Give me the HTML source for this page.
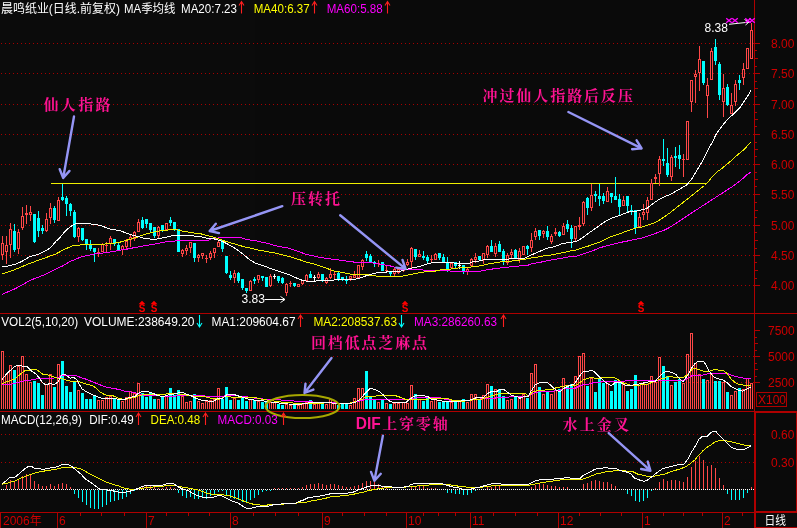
<!DOCTYPE html>
<html lang="zh"><head><meta charset="utf-8"><title>晨鸣纸业 日线</title>
<style>html,body{margin:0;padding:0;background:#0b0b0b;}svg{display:block}</style></head>
<body><svg width="797" height="528" viewBox="0 0 797 528" style="background:#0b0b0b;opacity:0.999;will-change:transform">
<rect width="797" height="528" fill="#0b0b0b"/>
<g shape-rendering="crispEdges">
<line x1="1" y1="43.5" x2="754" y2="43.5" stroke="#a80000" stroke-width="1" stroke-dasharray="1 3"/>
<line x1="1" y1="73.5" x2="754" y2="73.5" stroke="#a80000" stroke-width="1" stroke-dasharray="1 3"/>
<line x1="1" y1="104.5" x2="754" y2="104.5" stroke="#a80000" stroke-width="1" stroke-dasharray="1 3"/>
<line x1="1" y1="134.5" x2="754" y2="134.5" stroke="#a80000" stroke-width="1" stroke-dasharray="1 3"/>
<line x1="1" y1="164.5" x2="754" y2="164.5" stroke="#a80000" stroke-width="1" stroke-dasharray="1 3"/>
<line x1="1" y1="194.5" x2="754" y2="194.5" stroke="#a80000" stroke-width="1" stroke-dasharray="1 3"/>
<line x1="1" y1="225.5" x2="754" y2="225.5" stroke="#a80000" stroke-width="1" stroke-dasharray="1 3"/>
<line x1="1" y1="255.5" x2="754" y2="255.5" stroke="#a80000" stroke-width="1" stroke-dasharray="1 3"/>
<line x1="1" y1="285.5" x2="754" y2="285.5" stroke="#a80000" stroke-width="1" stroke-dasharray="1 3"/>
<line x1="1" y1="356.5" x2="754" y2="356.5" stroke="#a80000" stroke-width="1" stroke-dasharray="1 3"/>
<line x1="1" y1="382.5" x2="754" y2="382.5" stroke="#a80000" stroke-width="1" stroke-dasharray="1 3"/>
<line x1="1" y1="434.5" x2="754" y2="434.5" stroke="#a80000" stroke-width="1" stroke-dasharray="1 3"/>
<line x1="1" y1="462.5" x2="754" y2="462.5" stroke="#a80000" stroke-width="1" stroke-dasharray="1 3"/>
<rect x="0" y="313" width="797" height="1" fill="#b00000"/>
<rect x="0" y="411" width="797" height="1" fill="#b00000"/>
<rect x="0" y="512" width="797" height="1" fill="#b00000"/>
<rect x="754" y="0" width="1" height="528" fill="#b00000"/>
<rect x="754" y="411" width="43" height="2" fill="#b00000"/>
<rect x="754" y="411" width="2" height="117" fill="#b00000"/>
<rect x="796" y="411" width="1" height="101" fill="#b00000"/>
<rect x="754" y="511" width="43" height="2" fill="#b00000"/>
<rect x="755" y="527" width="42" height="1" fill="#b00000"/>
<rect x="756.5" y="392.5" width="30" height="14" fill="none" stroke="#b00000" stroke-width="1"/>
<rect x="755" y="43" width="5" height="1" fill="#b00000"/>
<rect x="755" y="50" width="2" height="1" fill="#b00000"/>
<rect x="755" y="58" width="3" height="1" fill="#b00000"/>
<rect x="755" y="66" width="2" height="1" fill="#b00000"/>
<rect x="755" y="73" width="5" height="1" fill="#b00000"/>
<rect x="755" y="81" width="2" height="1" fill="#b00000"/>
<rect x="755" y="88" width="3" height="1" fill="#b00000"/>
<rect x="755" y="96" width="2" height="1" fill="#b00000"/>
<rect x="755" y="104" width="5" height="1" fill="#b00000"/>
<rect x="755" y="112" width="2" height="1" fill="#b00000"/>
<rect x="755" y="119" width="3" height="1" fill="#b00000"/>
<rect x="755" y="126" width="2" height="1" fill="#b00000"/>
<rect x="755" y="134" width="5" height="1" fill="#b00000"/>
<rect x="755" y="142" width="2" height="1" fill="#b00000"/>
<rect x="755" y="149" width="3" height="1" fill="#b00000"/>
<rect x="755" y="156" width="2" height="1" fill="#b00000"/>
<rect x="755" y="164" width="5" height="1" fill="#b00000"/>
<rect x="755" y="172" width="2" height="1" fill="#b00000"/>
<rect x="755" y="179" width="3" height="1" fill="#b00000"/>
<rect x="755" y="186" width="2" height="1" fill="#b00000"/>
<rect x="755" y="194" width="5" height="1" fill="#b00000"/>
<rect x="755" y="202" width="2" height="1" fill="#b00000"/>
<rect x="755" y="210" width="3" height="1" fill="#b00000"/>
<rect x="755" y="217" width="2" height="1" fill="#b00000"/>
<rect x="755" y="225" width="5" height="1" fill="#b00000"/>
<rect x="755" y="232" width="2" height="1" fill="#b00000"/>
<rect x="755" y="240" width="3" height="1" fill="#b00000"/>
<rect x="755" y="248" width="2" height="1" fill="#b00000"/>
<rect x="755" y="255" width="5" height="1" fill="#b00000"/>
<rect x="755" y="262" width="2" height="1" fill="#b00000"/>
<rect x="755" y="270" width="3" height="1" fill="#b00000"/>
<rect x="755" y="278" width="2" height="1" fill="#b00000"/>
<rect x="755" y="285" width="5" height="1" fill="#b00000"/>
<rect x="755" y="330" width="5" height="1" fill="#b00000"/>
<rect x="755" y="337" width="2" height="1" fill="#b00000"/>
<rect x="755" y="343" width="3" height="1" fill="#b00000"/>
<rect x="755" y="350" width="2" height="1" fill="#b00000"/>
<rect x="755" y="356" width="5" height="1" fill="#b00000"/>
<rect x="755" y="363" width="2" height="1" fill="#b00000"/>
<rect x="755" y="369" width="3" height="1" fill="#b00000"/>
<rect x="755" y="376" width="2" height="1" fill="#b00000"/>
<rect x="755" y="382" width="5" height="1" fill="#b00000"/>
<rect x="57" y="512" width="1" height="16" fill="#b00000"/>
<rect x="146" y="512" width="1" height="16" fill="#b00000"/>
<rect x="230" y="512" width="1" height="16" fill="#b00000"/>
<rect x="322" y="512" width="1" height="16" fill="#b00000"/>
<rect x="406" y="512" width="1" height="16" fill="#b00000"/>
<rect x="470" y="512" width="1" height="16" fill="#b00000"/>
<rect x="558" y="512" width="1" height="16" fill="#b00000"/>
<rect x="642" y="512" width="1" height="16" fill="#b00000"/>
<rect x="722" y="512" width="1" height="16" fill="#b00000"/>
<rect x="80" y="512" width="1" height="4" fill="#b00000"/>
<rect x="101" y="512" width="1" height="4" fill="#b00000"/>
<rect x="124" y="512" width="1" height="4" fill="#b00000"/>
<rect x="166" y="512" width="1" height="4" fill="#b00000"/>
<rect x="188" y="512" width="1" height="4" fill="#b00000"/>
<rect x="209" y="512" width="1" height="4" fill="#b00000"/>
<rect x="253" y="512" width="1" height="4" fill="#b00000"/>
<rect x="275" y="512" width="1" height="4" fill="#b00000"/>
<rect x="298" y="512" width="1" height="4" fill="#b00000"/>
<rect x="342" y="512" width="1" height="4" fill="#b00000"/>
<rect x="364" y="512" width="1" height="4" fill="#b00000"/>
<rect x="386" y="512" width="1" height="4" fill="#b00000"/>
<rect x="423" y="512" width="1" height="4" fill="#b00000"/>
<rect x="438" y="512" width="1" height="4" fill="#b00000"/>
<rect x="455" y="512" width="1" height="4" fill="#b00000"/>
<rect x="493" y="512" width="1" height="4" fill="#b00000"/>
<rect x="515" y="512" width="1" height="4" fill="#b00000"/>
<rect x="537" y="512" width="1" height="4" fill="#b00000"/>
<rect x="579" y="512" width="1" height="4" fill="#b00000"/>
<rect x="600" y="512" width="1" height="4" fill="#b00000"/>
<rect x="621" y="512" width="1" height="4" fill="#b00000"/>
<rect x="663" y="512" width="1" height="4" fill="#b00000"/>
<rect x="683" y="512" width="1" height="4" fill="#b00000"/>
<rect x="702" y="512" width="1" height="4" fill="#b00000"/>
<rect x="742" y="512" width="1" height="4" fill="#b00000"/>
<rect x="0" y="512" width="1" height="16" fill="#b00000"/>
<rect x="51" y="183" width="655" height="1" fill="#f0f000"/>
<rect x="1" y="351" width="3" height="58" fill="#ff4848"/>
<rect x="2" y="352" width="1" height="57" fill="#0b0b0b"/>
<rect x="5" y="374" width="3" height="35" fill="#ff4848"/>
<rect x="6" y="375" width="1" height="34" fill="#0b0b0b"/>
<rect x="9" y="365" width="3" height="44" fill="#ff4848"/>
<rect x="10" y="366" width="1" height="43" fill="#0b0b0b"/>
<rect x="13" y="370" width="3" height="39" fill="#00ffff"/>
<rect x="17" y="366" width="3" height="43" fill="#ff4848"/>
<rect x="18" y="367" width="1" height="42" fill="#0b0b0b"/>
<rect x="21" y="356" width="3" height="53" fill="#ff4848"/>
<rect x="22" y="357" width="1" height="52" fill="#0b0b0b"/>
<rect x="25" y="374" width="3" height="35" fill="#ff4848"/>
<rect x="26" y="375" width="1" height="34" fill="#0b0b0b"/>
<rect x="29" y="382" width="3" height="27" fill="#ff4848"/>
<rect x="30" y="383" width="1" height="26" fill="#0b0b0b"/>
<rect x="33" y="381" width="3" height="28" fill="#00ffff"/>
<rect x="37" y="383" width="3" height="26" fill="#00ffff"/>
<rect x="41" y="395" width="3" height="14" fill="#00ffff"/>
<rect x="45" y="384" width="3" height="25" fill="#ff4848"/>
<rect x="46" y="385" width="1" height="24" fill="#0b0b0b"/>
<rect x="49" y="374" width="3" height="35" fill="#ff4848"/>
<rect x="50" y="375" width="1" height="34" fill="#0b0b0b"/>
<rect x="53" y="387" width="3" height="22" fill="#00ffff"/>
<rect x="57" y="364" width="3" height="45" fill="#ff4848"/>
<rect x="58" y="365" width="1" height="44" fill="#0b0b0b"/>
<rect x="61" y="361" width="3" height="48" fill="#00ffff"/>
<rect x="65" y="386" width="3" height="23" fill="#00ffff"/>
<rect x="69" y="392" width="3" height="17" fill="#00ffff"/>
<rect x="73" y="381" width="3" height="28" fill="#00ffff"/>
<rect x="77" y="390" width="3" height="19" fill="#ff4848"/>
<rect x="78" y="391" width="1" height="18" fill="#0b0b0b"/>
<rect x="81" y="393" width="3" height="16" fill="#00ffff"/>
<rect x="85" y="399" width="3" height="10" fill="#00ffff"/>
<rect x="89" y="399" width="3" height="10" fill="#00ffff"/>
<rect x="93" y="395" width="3" height="14" fill="#00ffff"/>
<rect x="97" y="400" width="3" height="9" fill="#ff4848"/>
<rect x="98" y="401" width="1" height="8" fill="#0b0b0b"/>
<rect x="101" y="400" width="3" height="9" fill="#ff4848"/>
<rect x="102" y="401" width="1" height="8" fill="#0b0b0b"/>
<rect x="105" y="397" width="3" height="12" fill="#ff4848"/>
<rect x="106" y="398" width="1" height="11" fill="#0b0b0b"/>
<rect x="109" y="396" width="3" height="13" fill="#ff4848"/>
<rect x="110" y="397" width="1" height="12" fill="#0b0b0b"/>
<rect x="113" y="399" width="3" height="10" fill="#00ffff"/>
<rect x="117" y="399" width="3" height="10" fill="#00ffff"/>
<rect x="121" y="401" width="3" height="8" fill="#ff4848"/>
<rect x="122" y="402" width="1" height="7" fill="#0b0b0b"/>
<rect x="125" y="397" width="3" height="12" fill="#ff4848"/>
<rect x="126" y="398" width="1" height="11" fill="#0b0b0b"/>
<rect x="129" y="391" width="3" height="18" fill="#ff4848"/>
<rect x="130" y="392" width="1" height="17" fill="#0b0b0b"/>
<rect x="133" y="393" width="3" height="16" fill="#ff4848"/>
<rect x="134" y="394" width="1" height="15" fill="#0b0b0b"/>
<rect x="137" y="383" width="3" height="26" fill="#ff4848"/>
<rect x="138" y="384" width="1" height="25" fill="#0b0b0b"/>
<rect x="141" y="393" width="3" height="16" fill="#00ffff"/>
<rect x="145" y="397" width="3" height="12" fill="#00ffff"/>
<rect x="149" y="392" width="3" height="17" fill="#00ffff"/>
<rect x="153" y="399" width="3" height="10" fill="#00ffff"/>
<rect x="157" y="399" width="3" height="10" fill="#ff4848"/>
<rect x="158" y="400" width="1" height="9" fill="#0b0b0b"/>
<rect x="161" y="397" width="3" height="12" fill="#00ffff"/>
<rect x="165" y="395" width="3" height="14" fill="#ff4848"/>
<rect x="166" y="396" width="1" height="13" fill="#0b0b0b"/>
<rect x="169" y="388" width="3" height="21" fill="#00ffff"/>
<rect x="173" y="395" width="3" height="14" fill="#00ffff"/>
<rect x="177" y="390" width="3" height="19" fill="#00ffff"/>
<rect x="181" y="396" width="3" height="13" fill="#ff4848"/>
<rect x="182" y="397" width="1" height="12" fill="#0b0b0b"/>
<rect x="185" y="402" width="3" height="7" fill="#ff4848"/>
<rect x="186" y="403" width="1" height="6" fill="#0b0b0b"/>
<rect x="189" y="401" width="3" height="8" fill="#ff4848"/>
<rect x="190" y="402" width="1" height="7" fill="#0b0b0b"/>
<rect x="193" y="394" width="3" height="15" fill="#00ffff"/>
<rect x="197" y="401" width="3" height="8" fill="#ff4848"/>
<rect x="198" y="402" width="1" height="7" fill="#0b0b0b"/>
<rect x="201" y="403" width="3" height="6" fill="#ff4848"/>
<rect x="202" y="404" width="1" height="5" fill="#0b0b0b"/>
<rect x="205" y="401" width="3" height="8" fill="#ff4848"/>
<rect x="206" y="402" width="1" height="7" fill="#0b0b0b"/>
<rect x="209" y="400" width="3" height="9" fill="#ff4848"/>
<rect x="210" y="401" width="1" height="8" fill="#0b0b0b"/>
<rect x="213" y="399" width="3" height="10" fill="#ff4848"/>
<rect x="214" y="400" width="1" height="9" fill="#0b0b0b"/>
<rect x="217" y="388" width="3" height="21" fill="#ff4848"/>
<rect x="218" y="389" width="1" height="20" fill="#0b0b0b"/>
<rect x="221" y="399" width="3" height="10" fill="#00ffff"/>
<rect x="225" y="387" width="3" height="22" fill="#00ffff"/>
<rect x="229" y="400" width="3" height="9" fill="#00ffff"/>
<rect x="233" y="398" width="3" height="11" fill="#ff4848"/>
<rect x="234" y="399" width="1" height="10" fill="#0b0b0b"/>
<rect x="237" y="400" width="3" height="9" fill="#00ffff"/>
<rect x="241" y="398" width="3" height="11" fill="#00ffff"/>
<rect x="245" y="401" width="3" height="8" fill="#00ffff"/>
<rect x="249" y="399" width="3" height="10" fill="#ff4848"/>
<rect x="250" y="400" width="1" height="9" fill="#0b0b0b"/>
<rect x="253" y="400" width="3" height="9" fill="#00ffff"/>
<rect x="257" y="401" width="3" height="8" fill="#ff4848"/>
<rect x="258" y="402" width="1" height="7" fill="#0b0b0b"/>
<rect x="261" y="402" width="3" height="7" fill="#00ffff"/>
<rect x="265" y="402" width="3" height="7" fill="#00ffff"/>
<rect x="269" y="402" width="3" height="7" fill="#ff4848"/>
<rect x="270" y="403" width="1" height="6" fill="#0b0b0b"/>
<rect x="273" y="402" width="3" height="7" fill="#ff4848"/>
<rect x="274" y="403" width="1" height="6" fill="#0b0b0b"/>
<rect x="277" y="404" width="3" height="5" fill="#00ffff"/>
<rect x="281" y="405" width="3" height="4" fill="#00ffff"/>
<rect x="285" y="404" width="3" height="5" fill="#ff4848"/>
<rect x="286" y="405" width="1" height="4" fill="#0b0b0b"/>
<rect x="289" y="405" width="3" height="4" fill="#ff4848"/>
<rect x="290" y="406" width="1" height="3" fill="#0b0b0b"/>
<rect x="293" y="405" width="3" height="4" fill="#00ffff"/>
<rect x="297" y="405" width="3" height="4" fill="#ff4848"/>
<rect x="298" y="406" width="1" height="3" fill="#0b0b0b"/>
<rect x="301" y="404" width="3" height="5" fill="#ff4848"/>
<rect x="302" y="405" width="1" height="4" fill="#0b0b0b"/>
<rect x="305" y="402" width="3" height="7" fill="#ff4848"/>
<rect x="306" y="403" width="1" height="6" fill="#0b0b0b"/>
<rect x="309" y="400" width="3" height="9" fill="#00ffff"/>
<rect x="313" y="404" width="3" height="5" fill="#ff4848"/>
<rect x="314" y="405" width="1" height="4" fill="#0b0b0b"/>
<rect x="317" y="402" width="3" height="7" fill="#ff4848"/>
<rect x="318" y="403" width="1" height="6" fill="#0b0b0b"/>
<rect x="321" y="403" width="3" height="6" fill="#00ffff"/>
<rect x="325" y="404" width="3" height="5" fill="#ff4848"/>
<rect x="326" y="405" width="1" height="4" fill="#0b0b0b"/>
<rect x="329" y="399" width="3" height="10" fill="#ff4848"/>
<rect x="330" y="400" width="1" height="9" fill="#0b0b0b"/>
<rect x="333" y="403" width="3" height="6" fill="#ff4848"/>
<rect x="334" y="404" width="1" height="5" fill="#0b0b0b"/>
<rect x="337" y="405" width="3" height="4" fill="#00ffff"/>
<rect x="341" y="404" width="3" height="5" fill="#00ffff"/>
<rect x="345" y="404" width="3" height="5" fill="#00ffff"/>
<rect x="349" y="405" width="3" height="4" fill="#ff4848"/>
<rect x="350" y="406" width="1" height="3" fill="#0b0b0b"/>
<rect x="353" y="398" width="3" height="11" fill="#ff4848"/>
<rect x="354" y="399" width="1" height="10" fill="#0b0b0b"/>
<rect x="357" y="388" width="3" height="21" fill="#ff4848"/>
<rect x="358" y="389" width="1" height="20" fill="#0b0b0b"/>
<rect x="361" y="388" width="3" height="21" fill="#ff4848"/>
<rect x="362" y="389" width="1" height="20" fill="#0b0b0b"/>
<rect x="365" y="371" width="3" height="38" fill="#00ffff"/>
<rect x="369" y="397" width="3" height="12" fill="#00ffff"/>
<rect x="373" y="400" width="3" height="9" fill="#00ffff"/>
<rect x="377" y="402" width="3" height="7" fill="#ff4848"/>
<rect x="378" y="403" width="1" height="6" fill="#0b0b0b"/>
<rect x="381" y="399" width="3" height="10" fill="#00ffff"/>
<rect x="385" y="403" width="3" height="6" fill="#ff4848"/>
<rect x="386" y="404" width="1" height="5" fill="#0b0b0b"/>
<rect x="389" y="404" width="3" height="5" fill="#00ffff"/>
<rect x="393" y="403" width="3" height="6" fill="#ff4848"/>
<rect x="394" y="404" width="1" height="5" fill="#0b0b0b"/>
<rect x="397" y="403" width="3" height="6" fill="#ff4848"/>
<rect x="398" y="404" width="1" height="5" fill="#0b0b0b"/>
<rect x="402" y="402" width="3" height="7" fill="#ff4848"/>
<rect x="403" y="403" width="1" height="6" fill="#0b0b0b"/>
<rect x="406" y="403" width="3" height="6" fill="#ff4848"/>
<rect x="407" y="404" width="1" height="5" fill="#0b0b0b"/>
<rect x="410" y="385" width="3" height="24" fill="#ff4848"/>
<rect x="411" y="386" width="1" height="23" fill="#0b0b0b"/>
<rect x="414" y="394" width="3" height="15" fill="#00ffff"/>
<rect x="418" y="399" width="3" height="10" fill="#ff4848"/>
<rect x="419" y="400" width="1" height="9" fill="#0b0b0b"/>
<rect x="422" y="401" width="3" height="8" fill="#00ffff"/>
<rect x="426" y="398" width="3" height="11" fill="#00ffff"/>
<rect x="430" y="401" width="3" height="8" fill="#ff4848"/>
<rect x="431" y="402" width="1" height="7" fill="#0b0b0b"/>
<rect x="434" y="399" width="3" height="10" fill="#ff4848"/>
<rect x="435" y="400" width="1" height="9" fill="#0b0b0b"/>
<rect x="438" y="402" width="3" height="7" fill="#00ffff"/>
<rect x="442" y="402" width="3" height="7" fill="#00ffff"/>
<rect x="446" y="401" width="3" height="8" fill="#00ffff"/>
<rect x="450" y="402" width="3" height="7" fill="#ff4848"/>
<rect x="451" y="403" width="1" height="6" fill="#0b0b0b"/>
<rect x="454" y="402" width="3" height="7" fill="#00ffff"/>
<rect x="458" y="401" width="3" height="8" fill="#ff4848"/>
<rect x="459" y="402" width="1" height="7" fill="#0b0b0b"/>
<rect x="462" y="399" width="3" height="10" fill="#00ffff"/>
<rect x="466" y="402" width="3" height="7" fill="#ff4848"/>
<rect x="467" y="403" width="1" height="6" fill="#0b0b0b"/>
<rect x="470" y="394" width="3" height="15" fill="#ff4848"/>
<rect x="471" y="395" width="1" height="14" fill="#0b0b0b"/>
<rect x="474" y="394" width="3" height="15" fill="#ff4848"/>
<rect x="475" y="395" width="1" height="14" fill="#0b0b0b"/>
<rect x="478" y="399" width="3" height="10" fill="#00ffff"/>
<rect x="482" y="395" width="3" height="14" fill="#ff4848"/>
<rect x="483" y="396" width="1" height="13" fill="#0b0b0b"/>
<rect x="486" y="384" width="3" height="25" fill="#ff4848"/>
<rect x="487" y="385" width="1" height="24" fill="#0b0b0b"/>
<rect x="490" y="386" width="3" height="23" fill="#00ffff"/>
<rect x="494" y="389" width="3" height="20" fill="#ff4848"/>
<rect x="495" y="390" width="1" height="19" fill="#0b0b0b"/>
<rect x="498" y="389" width="3" height="20" fill="#00ffff"/>
<rect x="502" y="396" width="3" height="13" fill="#00ffff"/>
<rect x="506" y="400" width="3" height="9" fill="#ff4848"/>
<rect x="507" y="401" width="1" height="8" fill="#0b0b0b"/>
<rect x="510" y="399" width="3" height="10" fill="#ff4848"/>
<rect x="511" y="400" width="1" height="9" fill="#0b0b0b"/>
<rect x="514" y="396" width="3" height="13" fill="#00ffff"/>
<rect x="518" y="396" width="3" height="13" fill="#ff4848"/>
<rect x="519" y="397" width="1" height="12" fill="#0b0b0b"/>
<rect x="522" y="394" width="3" height="15" fill="#ff4848"/>
<rect x="523" y="395" width="1" height="14" fill="#0b0b0b"/>
<rect x="526" y="398" width="3" height="11" fill="#00ffff"/>
<rect x="530" y="373" width="3" height="36" fill="#ff4848"/>
<rect x="531" y="374" width="1" height="35" fill="#0b0b0b"/>
<rect x="534" y="364" width="3" height="45" fill="#ff4848"/>
<rect x="535" y="365" width="1" height="44" fill="#0b0b0b"/>
<rect x="538" y="387" width="3" height="22" fill="#00ffff"/>
<rect x="542" y="394" width="3" height="15" fill="#ff4848"/>
<rect x="543" y="395" width="1" height="14" fill="#0b0b0b"/>
<rect x="546" y="391" width="3" height="18" fill="#00ffff"/>
<rect x="550" y="394" width="3" height="15" fill="#ff4848"/>
<rect x="551" y="395" width="1" height="14" fill="#0b0b0b"/>
<rect x="554" y="390" width="3" height="19" fill="#ff4848"/>
<rect x="555" y="391" width="1" height="18" fill="#0b0b0b"/>
<rect x="558" y="389" width="3" height="20" fill="#00ffff"/>
<rect x="562" y="378" width="3" height="31" fill="#ff4848"/>
<rect x="563" y="379" width="1" height="30" fill="#0b0b0b"/>
<rect x="566" y="386" width="3" height="23" fill="#00ffff"/>
<rect x="570" y="384" width="3" height="25" fill="#00ffff"/>
<rect x="574" y="376" width="3" height="33" fill="#ff4848"/>
<rect x="575" y="377" width="1" height="32" fill="#0b0b0b"/>
<rect x="578" y="356" width="3" height="53" fill="#ff4848"/>
<rect x="579" y="357" width="1" height="52" fill="#0b0b0b"/>
<rect x="582" y="353" width="3" height="56" fill="#ff4848"/>
<rect x="583" y="354" width="1" height="55" fill="#0b0b0b"/>
<rect x="586" y="386" width="3" height="23" fill="#00ffff"/>
<rect x="590" y="378" width="3" height="31" fill="#ff4848"/>
<rect x="591" y="379" width="1" height="30" fill="#0b0b0b"/>
<rect x="594" y="392" width="3" height="17" fill="#00ffff"/>
<rect x="598" y="378" width="3" height="31" fill="#00ffff"/>
<rect x="602" y="383" width="3" height="26" fill="#00ffff"/>
<rect x="606" y="383" width="3" height="26" fill="#ff4848"/>
<rect x="607" y="384" width="1" height="25" fill="#0b0b0b"/>
<rect x="610" y="391" width="3" height="18" fill="#00ffff"/>
<rect x="614" y="380" width="3" height="29" fill="#00ffff"/>
<rect x="618" y="383" width="3" height="26" fill="#00ffff"/>
<rect x="622" y="384" width="3" height="25" fill="#ff4848"/>
<rect x="623" y="385" width="1" height="24" fill="#0b0b0b"/>
<rect x="626" y="391" width="3" height="18" fill="#00ffff"/>
<rect x="630" y="389" width="3" height="20" fill="#00ffff"/>
<rect x="634" y="375" width="3" height="34" fill="#00ffff"/>
<rect x="638" y="385" width="3" height="24" fill="#ff4848"/>
<rect x="639" y="386" width="1" height="23" fill="#0b0b0b"/>
<rect x="642" y="383" width="3" height="26" fill="#ff4848"/>
<rect x="643" y="384" width="1" height="25" fill="#0b0b0b"/>
<rect x="646" y="384" width="3" height="25" fill="#ff4848"/>
<rect x="647" y="385" width="1" height="24" fill="#0b0b0b"/>
<rect x="650" y="376" width="3" height="33" fill="#ff4848"/>
<rect x="651" y="377" width="1" height="32" fill="#0b0b0b"/>
<rect x="654" y="382" width="3" height="27" fill="#ff4848"/>
<rect x="655" y="383" width="1" height="26" fill="#0b0b0b"/>
<rect x="658" y="357" width="3" height="52" fill="#ff4848"/>
<rect x="659" y="358" width="1" height="51" fill="#0b0b0b"/>
<rect x="662" y="366" width="3" height="43" fill="#00ffff"/>
<rect x="666" y="376" width="3" height="33" fill="#00ffff"/>
<rect x="670" y="385" width="3" height="24" fill="#ff4848"/>
<rect x="671" y="386" width="1" height="23" fill="#0b0b0b"/>
<rect x="674" y="382" width="3" height="27" fill="#00ffff"/>
<rect x="678" y="379" width="3" height="30" fill="#00ffff"/>
<rect x="682" y="383" width="3" height="26" fill="#ff4848"/>
<rect x="683" y="384" width="1" height="25" fill="#0b0b0b"/>
<rect x="686" y="354" width="3" height="55" fill="#ff4848"/>
<rect x="687" y="355" width="1" height="54" fill="#0b0b0b"/>
<rect x="690" y="333" width="3" height="76" fill="#ff4848"/>
<rect x="691" y="334" width="1" height="75" fill="#0b0b0b"/>
<rect x="694" y="363" width="3" height="46" fill="#ff4848"/>
<rect x="695" y="364" width="1" height="45" fill="#0b0b0b"/>
<rect x="698" y="374" width="3" height="35" fill="#ff4848"/>
<rect x="699" y="375" width="1" height="34" fill="#0b0b0b"/>
<rect x="702" y="379" width="3" height="30" fill="#00ffff"/>
<rect x="706" y="380" width="3" height="29" fill="#ff4848"/>
<rect x="707" y="381" width="1" height="28" fill="#0b0b0b"/>
<rect x="710" y="374" width="3" height="35" fill="#ff4848"/>
<rect x="711" y="375" width="1" height="34" fill="#0b0b0b"/>
<rect x="714" y="381" width="3" height="28" fill="#00ffff"/>
<rect x="718" y="381" width="3" height="28" fill="#00ffff"/>
<rect x="722" y="382" width="3" height="27" fill="#ff4848"/>
<rect x="723" y="383" width="1" height="26" fill="#0b0b0b"/>
<rect x="726" y="392" width="3" height="17" fill="#00ffff"/>
<rect x="730" y="395" width="3" height="14" fill="#ff4848"/>
<rect x="731" y="396" width="1" height="13" fill="#0b0b0b"/>
<rect x="734" y="391" width="3" height="18" fill="#ff4848"/>
<rect x="735" y="392" width="1" height="17" fill="#0b0b0b"/>
<rect x="738" y="388" width="3" height="21" fill="#00ffff"/>
<rect x="742" y="389" width="3" height="20" fill="#ff4848"/>
<rect x="743" y="390" width="1" height="19" fill="#0b0b0b"/>
<rect x="746" y="378" width="3" height="31" fill="#ff4848"/>
<rect x="747" y="379" width="1" height="30" fill="#0b0b0b"/>
<rect x="750" y="383" width="3" height="26" fill="#ff4848"/>
<rect x="751" y="384" width="1" height="25" fill="#0b0b0b"/>
<rect x="6" y="485" width="1" height="4" fill="#ff4848"/>
<rect x="10" y="480" width="1" height="9" fill="#ff4848"/>
<rect x="14" y="482" width="1" height="7" fill="#ff4848"/>
<rect x="18" y="480" width="1" height="9" fill="#ff4848"/>
<rect x="22" y="476" width="1" height="13" fill="#ff4848"/>
<rect x="26" y="474" width="1" height="15" fill="#ff4848"/>
<rect x="30" y="474" width="1" height="15" fill="#ff4848"/>
<rect x="34" y="481" width="1" height="8" fill="#ff4848"/>
<rect x="38" y="484" width="1" height="5" fill="#ff4848"/>
<rect x="42" y="486" width="1" height="3" fill="#ff4848"/>
<rect x="46" y="486" width="1" height="3" fill="#ff4848"/>
<rect x="50" y="484" width="1" height="5" fill="#ff4848"/>
<rect x="54" y="486" width="1" height="3" fill="#ff4848"/>
<rect x="58" y="484" width="1" height="5" fill="#ff4848"/>
<rect x="62" y="483" width="1" height="6" fill="#ff4848"/>
<rect x="66" y="484" width="1" height="5" fill="#ff4848"/>
<rect x="70" y="487" width="1" height="2" fill="#ff4848"/>
<rect x="74" y="490" width="1" height="4" fill="#00ffff"/>
<rect x="78" y="490" width="1" height="8" fill="#00ffff"/>
<rect x="82" y="490" width="1" height="12" fill="#00ffff"/>
<rect x="86" y="490" width="1" height="15" fill="#00ffff"/>
<rect x="90" y="490" width="1" height="18" fill="#00ffff"/>
<rect x="94" y="490" width="1" height="19" fill="#00ffff"/>
<rect x="98" y="490" width="1" height="19" fill="#00ffff"/>
<rect x="102" y="490" width="1" height="17" fill="#00ffff"/>
<rect x="106" y="490" width="1" height="15" fill="#00ffff"/>
<rect x="110" y="490" width="1" height="12" fill="#00ffff"/>
<rect x="114" y="490" width="1" height="11" fill="#00ffff"/>
<rect x="118" y="490" width="1" height="10" fill="#00ffff"/>
<rect x="122" y="490" width="1" height="9" fill="#00ffff"/>
<rect x="126" y="490" width="1" height="7" fill="#00ffff"/>
<rect x="130" y="490" width="1" height="4" fill="#00ffff"/>
<rect x="134" y="490" width="1" height="1" fill="#00ffff"/>
<rect x="138" y="488" width="1" height="1" fill="#ff4848"/>
<rect x="142" y="487" width="1" height="2" fill="#ff4848"/>
<rect x="146" y="485" width="1" height="4" fill="#ff4848"/>
<rect x="150" y="486" width="1" height="3" fill="#ff4848"/>
<rect x="154" y="487" width="1" height="2" fill="#ff4848"/>
<rect x="158" y="488" width="1" height="1" fill="#ff4848"/>
<rect x="162" y="488" width="1" height="1" fill="#ff4848"/>
<rect x="166" y="487" width="1" height="2" fill="#ff4848"/>
<rect x="170" y="487" width="1" height="2" fill="#ff4848"/>
<rect x="174" y="488" width="1" height="1" fill="#ff4848"/>
<rect x="178" y="490" width="1" height="3" fill="#00ffff"/>
<rect x="182" y="490" width="1" height="6" fill="#00ffff"/>
<rect x="186" y="490" width="1" height="8" fill="#00ffff"/>
<rect x="190" y="490" width="1" height="7" fill="#00ffff"/>
<rect x="194" y="490" width="1" height="9" fill="#00ffff"/>
<rect x="198" y="490" width="1" height="9" fill="#00ffff"/>
<rect x="202" y="490" width="1" height="8" fill="#00ffff"/>
<rect x="206" y="490" width="1" height="9" fill="#00ffff"/>
<rect x="210" y="490" width="1" height="6" fill="#00ffff"/>
<rect x="214" y="490" width="1" height="5" fill="#00ffff"/>
<rect x="218" y="490" width="1" height="2" fill="#00ffff"/>
<rect x="222" y="490" width="1" height="1" fill="#00ffff"/>
<rect x="226" y="490" width="1" height="5" fill="#00ffff"/>
<rect x="230" y="490" width="1" height="8" fill="#00ffff"/>
<rect x="234" y="490" width="1" height="9" fill="#00ffff"/>
<rect x="238" y="490" width="1" height="10" fill="#00ffff"/>
<rect x="242" y="490" width="1" height="12" fill="#00ffff"/>
<rect x="246" y="490" width="1" height="12" fill="#00ffff"/>
<rect x="250" y="490" width="1" height="10" fill="#00ffff"/>
<rect x="254" y="490" width="1" height="8" fill="#00ffff"/>
<rect x="258" y="490" width="1" height="5" fill="#00ffff"/>
<rect x="262" y="490" width="1" height="2" fill="#00ffff"/>
<rect x="266" y="490" width="1" height="1" fill="#00ffff"/>
<rect x="270" y="490" width="1" height="1" fill="#00ffff"/>
<rect x="274" y="488" width="1" height="1" fill="#ff4848"/>
<rect x="278" y="488" width="1" height="1" fill="#ff4848"/>
<rect x="282" y="488" width="1" height="1" fill="#ff4848"/>
<rect x="286" y="488" width="1" height="1" fill="#ff4848"/>
<rect x="290" y="488" width="1" height="1" fill="#ff4848"/>
<rect x="294" y="488" width="1" height="1" fill="#ff4848"/>
<rect x="298" y="488" width="1" height="1" fill="#ff4848"/>
<rect x="302" y="487" width="1" height="2" fill="#ff4848"/>
<rect x="306" y="485" width="1" height="4" fill="#ff4848"/>
<rect x="310" y="484" width="1" height="5" fill="#ff4848"/>
<rect x="314" y="484" width="1" height="5" fill="#ff4848"/>
<rect x="318" y="483" width="1" height="6" fill="#ff4848"/>
<rect x="322" y="484" width="1" height="5" fill="#ff4848"/>
<rect x="326" y="485" width="1" height="4" fill="#ff4848"/>
<rect x="330" y="484" width="1" height="5" fill="#ff4848"/>
<rect x="334" y="484" width="1" height="5" fill="#ff4848"/>
<rect x="338" y="485" width="1" height="4" fill="#ff4848"/>
<rect x="342" y="486" width="1" height="3" fill="#ff4848"/>
<rect x="346" y="487" width="1" height="2" fill="#ff4848"/>
<rect x="350" y="487" width="1" height="2" fill="#ff4848"/>
<rect x="354" y="486" width="1" height="3" fill="#ff4848"/>
<rect x="358" y="485" width="1" height="4" fill="#ff4848"/>
<rect x="362" y="483" width="1" height="6" fill="#ff4848"/>
<rect x="366" y="481" width="1" height="8" fill="#ff4848"/>
<rect x="370" y="481" width="1" height="8" fill="#ff4848"/>
<rect x="374" y="482" width="1" height="7" fill="#ff4848"/>
<rect x="378" y="484" width="1" height="5" fill="#ff4848"/>
<rect x="382" y="486" width="1" height="3" fill="#ff4848"/>
<rect x="386" y="488" width="1" height="1" fill="#ff4848"/>
<rect x="411" y="486" width="1" height="3" fill="#ff4848"/>
<rect x="415" y="486" width="1" height="3" fill="#ff4848"/>
<rect x="419" y="485" width="1" height="4" fill="#ff4848"/>
<rect x="423" y="486" width="1" height="3" fill="#ff4848"/>
<rect x="427" y="488" width="1" height="1" fill="#ff4848"/>
<rect x="431" y="488" width="1" height="1" fill="#ff4848"/>
<rect x="435" y="488" width="1" height="1" fill="#ff4848"/>
<rect x="447" y="490" width="1" height="3" fill="#00ffff"/>
<rect x="451" y="490" width="1" height="3" fill="#00ffff"/>
<rect x="455" y="490" width="1" height="4" fill="#00ffff"/>
<rect x="459" y="490" width="1" height="4" fill="#00ffff"/>
<rect x="463" y="490" width="1" height="5" fill="#00ffff"/>
<rect x="467" y="490" width="1" height="5" fill="#00ffff"/>
<rect x="471" y="490" width="1" height="3" fill="#00ffff"/>
<rect x="475" y="490" width="1" height="1" fill="#00ffff"/>
<rect x="487" y="487" width="1" height="2" fill="#ff4848"/>
<rect x="491" y="487" width="1" height="2" fill="#ff4848"/>
<rect x="495" y="486" width="1" height="3" fill="#ff4848"/>
<rect x="499" y="485" width="1" height="4" fill="#ff4848"/>
<rect x="531" y="487" width="1" height="2" fill="#ff4848"/>
<rect x="535" y="485" width="1" height="4" fill="#ff4848"/>
<rect x="539" y="484" width="1" height="5" fill="#ff4848"/>
<rect x="543" y="484" width="1" height="5" fill="#ff4848"/>
<rect x="547" y="485" width="1" height="4" fill="#ff4848"/>
<rect x="551" y="486" width="1" height="3" fill="#ff4848"/>
<rect x="555" y="486" width="1" height="3" fill="#ff4848"/>
<rect x="559" y="487" width="1" height="2" fill="#ff4848"/>
<rect x="563" y="487" width="1" height="2" fill="#ff4848"/>
<rect x="567" y="487" width="1" height="2" fill="#ff4848"/>
<rect x="583" y="484" width="1" height="5" fill="#ff4848"/>
<rect x="587" y="483" width="1" height="6" fill="#ff4848"/>
<rect x="591" y="481" width="1" height="8" fill="#ff4848"/>
<rect x="595" y="480" width="1" height="9" fill="#ff4848"/>
<rect x="599" y="481" width="1" height="8" fill="#ff4848"/>
<rect x="603" y="482" width="1" height="7" fill="#ff4848"/>
<rect x="607" y="482" width="1" height="7" fill="#ff4848"/>
<rect x="611" y="484" width="1" height="5" fill="#ff4848"/>
<rect x="615" y="486" width="1" height="3" fill="#ff4848"/>
<rect x="627" y="490" width="1" height="4" fill="#00ffff"/>
<rect x="631" y="490" width="1" height="6" fill="#00ffff"/>
<rect x="635" y="490" width="1" height="11" fill="#00ffff"/>
<rect x="639" y="490" width="1" height="12" fill="#00ffff"/>
<rect x="643" y="490" width="1" height="11" fill="#00ffff"/>
<rect x="647" y="490" width="1" height="8" fill="#00ffff"/>
<rect x="651" y="490" width="1" height="1" fill="#00ffff"/>
<rect x="655" y="488" width="1" height="1" fill="#ff4848"/>
<rect x="659" y="482" width="1" height="7" fill="#ff4848"/>
<rect x="663" y="479" width="1" height="10" fill="#ff4848"/>
<rect x="667" y="481" width="1" height="8" fill="#ff4848"/>
<rect x="671" y="480" width="1" height="9" fill="#ff4848"/>
<rect x="675" y="480" width="1" height="9" fill="#ff4848"/>
<rect x="679" y="481" width="1" height="8" fill="#ff4848"/>
<rect x="683" y="482" width="1" height="7" fill="#ff4848"/>
<rect x="687" y="477" width="1" height="12" fill="#ff4848"/>
<rect x="691" y="467" width="1" height="22" fill="#ff4848"/>
<rect x="695" y="461" width="1" height="28" fill="#ff4848"/>
<rect x="699" y="456" width="1" height="33" fill="#ff4848"/>
<rect x="703" y="460" width="1" height="29" fill="#ff4848"/>
<rect x="707" y="466" width="1" height="23" fill="#ff4848"/>
<rect x="711" y="465" width="1" height="24" fill="#ff4848"/>
<rect x="715" y="468" width="1" height="21" fill="#ff4848"/>
<rect x="719" y="478" width="1" height="11" fill="#ff4848"/>
<rect x="723" y="485" width="1" height="4" fill="#ff4848"/>
<rect x="727" y="490" width="1" height="4" fill="#00ffff"/>
<rect x="731" y="490" width="1" height="10" fill="#00ffff"/>
<rect x="735" y="490" width="1" height="10" fill="#00ffff"/>
<rect x="739" y="490" width="1" height="10" fill="#00ffff"/>
<rect x="743" y="490" width="1" height="8" fill="#00ffff"/>
<rect x="747" y="490" width="1" height="3" fill="#00ffff"/>
<rect x="751" y="487" width="1" height="2" fill="#ff4848"/>
<line x1="1" y1="489.5" x2="754" y2="489.5" stroke="#ffffff" stroke-width="1" stroke-dasharray="1 1"/>
<rect x="2" y="236" width="1" height="24" fill="#ff4848"/>
<rect x="1" y="243" width="3" height="12" fill="#ff4848"/>
<rect x="2" y="244" width="1" height="10" fill="#0b0b0b"/>
<rect x="6" y="236" width="1" height="28" fill="#ff4848"/>
<rect x="5" y="245" width="3" height="7" fill="#ff4848"/>
<rect x="6" y="246" width="1" height="5" fill="#0b0b0b"/>
<rect x="10" y="223" width="1" height="35" fill="#ff4848"/>
<rect x="9" y="229" width="3" height="16" fill="#ff4848"/>
<rect x="10" y="230" width="1" height="14" fill="#0b0b0b"/>
<rect x="14" y="224" width="1" height="28" fill="#00ffff"/>
<rect x="13" y="231" width="3" height="19" fill="#00ffff"/>
<rect x="18" y="229" width="1" height="25" fill="#ff4848"/>
<rect x="17" y="232" width="3" height="17" fill="#ff4848"/>
<rect x="18" y="233" width="1" height="15" fill="#0b0b0b"/>
<rect x="22" y="207" width="1" height="23" fill="#ff4848"/>
<rect x="21" y="216" width="3" height="12" fill="#ff4848"/>
<rect x="22" y="217" width="1" height="10" fill="#0b0b0b"/>
<rect x="26" y="205" width="1" height="19" fill="#ff4848"/>
<rect x="25" y="213" width="3" height="2" fill="#ff4848"/>
<rect x="30" y="206" width="1" height="15" fill="#ff4848"/>
<rect x="29" y="212" width="3" height="3" fill="#ff4848"/>
<rect x="30" y="213" width="1" height="1" fill="#0b0b0b"/>
<rect x="34" y="214" width="1" height="29" fill="#00ffff"/>
<rect x="33" y="214" width="3" height="28" fill="#00ffff"/>
<rect x="38" y="211" width="1" height="26" fill="#00ffff"/>
<rect x="37" y="218" width="3" height="13" fill="#00ffff"/>
<rect x="42" y="225" width="1" height="9" fill="#00ffff"/>
<rect x="41" y="228" width="3" height="3" fill="#00ffff"/>
<rect x="46" y="213" width="1" height="19" fill="#ff4848"/>
<rect x="45" y="219" width="3" height="12" fill="#ff4848"/>
<rect x="46" y="220" width="1" height="10" fill="#0b0b0b"/>
<rect x="50" y="203" width="1" height="21" fill="#ff4848"/>
<rect x="49" y="208" width="3" height="10" fill="#ff4848"/>
<rect x="50" y="209" width="1" height="8" fill="#0b0b0b"/>
<rect x="54" y="206" width="1" height="17" fill="#00ffff"/>
<rect x="53" y="208" width="3" height="12" fill="#00ffff"/>
<rect x="58" y="197" width="1" height="24" fill="#ff4848"/>
<rect x="57" y="200" width="3" height="21" fill="#ff4848"/>
<rect x="58" y="201" width="1" height="19" fill="#0b0b0b"/>
<rect x="62" y="184" width="1" height="17" fill="#00ffff"/>
<rect x="61" y="197" width="3" height="3" fill="#00ffff"/>
<rect x="66" y="196" width="1" height="20" fill="#00ffff"/>
<rect x="65" y="198" width="3" height="6" fill="#00ffff"/>
<rect x="70" y="203" width="1" height="13" fill="#00ffff"/>
<rect x="69" y="204" width="3" height="7" fill="#00ffff"/>
<rect x="74" y="210" width="1" height="28" fill="#00ffff"/>
<rect x="73" y="212" width="3" height="25" fill="#00ffff"/>
<rect x="78" y="227" width="1" height="15" fill="#ff4848"/>
<rect x="77" y="228" width="3" height="9" fill="#ff4848"/>
<rect x="78" y="229" width="1" height="7" fill="#0b0b0b"/>
<rect x="82" y="228" width="1" height="13" fill="#00ffff"/>
<rect x="81" y="228" width="3" height="12" fill="#00ffff"/>
<rect x="86" y="239" width="1" height="11" fill="#00ffff"/>
<rect x="85" y="239" width="3" height="6" fill="#00ffff"/>
<rect x="90" y="240" width="1" height="11" fill="#00ffff"/>
<rect x="89" y="244" width="3" height="5" fill="#00ffff"/>
<rect x="94" y="248" width="1" height="14" fill="#00ffff"/>
<rect x="93" y="248" width="3" height="4" fill="#00ffff"/>
<rect x="98" y="248" width="1" height="9" fill="#ff4848"/>
<rect x="97" y="252" width="3" height="2" fill="#ff4848"/>
<rect x="102" y="243" width="1" height="9" fill="#ff4848"/>
<rect x="101" y="244" width="3" height="8" fill="#ff4848"/>
<rect x="102" y="245" width="1" height="6" fill="#0b0b0b"/>
<rect x="106" y="242" width="1" height="10" fill="#ff4848"/>
<rect x="105" y="245" width="3" height="1" fill="#ff4848"/>
<rect x="110" y="236" width="1" height="14" fill="#ff4848"/>
<rect x="109" y="238" width="3" height="6" fill="#ff4848"/>
<rect x="110" y="239" width="1" height="4" fill="#0b0b0b"/>
<rect x="114" y="239" width="1" height="7" fill="#00ffff"/>
<rect x="113" y="239" width="3" height="5" fill="#00ffff"/>
<rect x="118" y="243" width="1" height="7" fill="#00ffff"/>
<rect x="117" y="245" width="3" height="5" fill="#00ffff"/>
<rect x="122" y="245" width="1" height="10" fill="#ff4848"/>
<rect x="121" y="246" width="3" height="4" fill="#ff4848"/>
<rect x="122" y="247" width="1" height="2" fill="#0b0b0b"/>
<rect x="126" y="239" width="1" height="10" fill="#ff4848"/>
<rect x="125" y="241" width="3" height="6" fill="#ff4848"/>
<rect x="126" y="242" width="1" height="4" fill="#0b0b0b"/>
<rect x="130" y="235" width="1" height="12" fill="#ff4848"/>
<rect x="129" y="237" width="3" height="3" fill="#ff4848"/>
<rect x="130" y="238" width="1" height="1" fill="#0b0b0b"/>
<rect x="134" y="231" width="1" height="10" fill="#ff4848"/>
<rect x="133" y="232" width="3" height="7" fill="#ff4848"/>
<rect x="134" y="233" width="1" height="5" fill="#0b0b0b"/>
<rect x="138" y="219" width="1" height="13" fill="#ff4848"/>
<rect x="137" y="222" width="3" height="10" fill="#ff4848"/>
<rect x="138" y="223" width="1" height="8" fill="#0b0b0b"/>
<rect x="142" y="217" width="1" height="12" fill="#00ffff"/>
<rect x="141" y="220" width="3" height="8" fill="#00ffff"/>
<rect x="146" y="219" width="1" height="9" fill="#00ffff"/>
<rect x="145" y="219" width="3" height="5" fill="#00ffff"/>
<rect x="150" y="223" width="1" height="10" fill="#00ffff"/>
<rect x="149" y="223" width="3" height="7" fill="#00ffff"/>
<rect x="154" y="227" width="1" height="11" fill="#00ffff"/>
<rect x="153" y="227" width="3" height="9" fill="#00ffff"/>
<rect x="158" y="226" width="1" height="12" fill="#ff4848"/>
<rect x="157" y="227" width="3" height="9" fill="#ff4848"/>
<rect x="158" y="228" width="1" height="7" fill="#0b0b0b"/>
<rect x="162" y="225" width="1" height="7" fill="#00ffff"/>
<rect x="161" y="225" width="3" height="5" fill="#00ffff"/>
<rect x="166" y="223" width="1" height="7" fill="#ff4848"/>
<rect x="165" y="223" width="3" height="7" fill="#ff4848"/>
<rect x="166" y="224" width="1" height="5" fill="#0b0b0b"/>
<rect x="170" y="217" width="1" height="9" fill="#00ffff"/>
<rect x="169" y="220" width="3" height="3" fill="#00ffff"/>
<rect x="174" y="222" width="1" height="9" fill="#00ffff"/>
<rect x="173" y="222" width="3" height="8" fill="#00ffff"/>
<rect x="178" y="229" width="1" height="23" fill="#00ffff"/>
<rect x="177" y="229" width="3" height="23" fill="#00ffff"/>
<rect x="182" y="249" width="1" height="8" fill="#ff4848"/>
<rect x="181" y="250" width="3" height="4" fill="#ff4848"/>
<rect x="182" y="251" width="1" height="2" fill="#0b0b0b"/>
<rect x="186" y="245" width="1" height="10" fill="#ff4848"/>
<rect x="185" y="248" width="3" height="3" fill="#ff4848"/>
<rect x="186" y="249" width="1" height="1" fill="#0b0b0b"/>
<rect x="190" y="242" width="1" height="11" fill="#ff4848"/>
<rect x="189" y="242" width="3" height="6" fill="#ff4848"/>
<rect x="190" y="243" width="1" height="4" fill="#0b0b0b"/>
<rect x="194" y="243" width="1" height="19" fill="#00ffff"/>
<rect x="193" y="243" width="3" height="15" fill="#00ffff"/>
<rect x="198" y="254" width="1" height="8" fill="#ff4848"/>
<rect x="197" y="255" width="3" height="3" fill="#ff4848"/>
<rect x="198" y="256" width="1" height="1" fill="#0b0b0b"/>
<rect x="202" y="253" width="1" height="6" fill="#ff4848"/>
<rect x="201" y="253" width="3" height="3" fill="#ff4848"/>
<rect x="202" y="254" width="1" height="1" fill="#0b0b0b"/>
<rect x="206" y="255" width="1" height="8" fill="#ff4848"/>
<rect x="205" y="258" width="3" height="1" fill="#ff4848"/>
<rect x="210" y="251" width="1" height="9" fill="#ff4848"/>
<rect x="209" y="253" width="3" height="5" fill="#ff4848"/>
<rect x="210" y="254" width="1" height="3" fill="#0b0b0b"/>
<rect x="214" y="248" width="1" height="10" fill="#ff4848"/>
<rect x="213" y="248" width="3" height="5" fill="#ff4848"/>
<rect x="214" y="249" width="1" height="3" fill="#0b0b0b"/>
<rect x="218" y="240" width="1" height="7" fill="#ff4848"/>
<rect x="217" y="242" width="3" height="5" fill="#ff4848"/>
<rect x="218" y="243" width="1" height="3" fill="#0b0b0b"/>
<rect x="222" y="240" width="1" height="12" fill="#00ffff"/>
<rect x="221" y="240" width="3" height="9" fill="#00ffff"/>
<rect x="226" y="256" width="1" height="18" fill="#00ffff"/>
<rect x="225" y="256" width="3" height="17" fill="#00ffff"/>
<rect x="230" y="271" width="1" height="9" fill="#00ffff"/>
<rect x="229" y="275" width="3" height="3" fill="#00ffff"/>
<rect x="234" y="270" width="1" height="13" fill="#ff4848"/>
<rect x="233" y="273" width="3" height="5" fill="#ff4848"/>
<rect x="234" y="274" width="1" height="3" fill="#0b0b0b"/>
<rect x="238" y="272" width="1" height="11" fill="#00ffff"/>
<rect x="237" y="273" width="3" height="8" fill="#00ffff"/>
<rect x="242" y="279" width="1" height="11" fill="#00ffff"/>
<rect x="241" y="279" width="3" height="9" fill="#00ffff"/>
<rect x="246" y="288" width="1" height="5" fill="#00ffff"/>
<rect x="245" y="288" width="3" height="3" fill="#00ffff"/>
<rect x="250" y="280" width="1" height="11" fill="#ff4848"/>
<rect x="249" y="281" width="3" height="10" fill="#ff4848"/>
<rect x="250" y="282" width="1" height="8" fill="#0b0b0b"/>
<rect x="254" y="277" width="1" height="7" fill="#00ffff"/>
<rect x="253" y="279" width="3" height="2" fill="#00ffff"/>
<rect x="258" y="275" width="1" height="8" fill="#ff4848"/>
<rect x="257" y="275" width="3" height="5" fill="#ff4848"/>
<rect x="258" y="276" width="1" height="3" fill="#0b0b0b"/>
<rect x="262" y="276" width="1" height="5" fill="#00ffff"/>
<rect x="261" y="276" width="3" height="2" fill="#00ffff"/>
<rect x="266" y="277" width="1" height="10" fill="#00ffff"/>
<rect x="265" y="277" width="3" height="10" fill="#00ffff"/>
<rect x="270" y="274" width="1" height="13" fill="#ff4848"/>
<rect x="269" y="276" width="3" height="10" fill="#ff4848"/>
<rect x="270" y="277" width="1" height="8" fill="#0b0b0b"/>
<rect x="274" y="274" width="1" height="5" fill="#ffffff"/>
<rect x="273" y="276" width="3" height="1" fill="#ffffff"/>
<rect x="278" y="276" width="1" height="7" fill="#00ffff"/>
<rect x="277" y="276" width="3" height="5" fill="#00ffff"/>
<rect x="282" y="277" width="1" height="7" fill="#00ffff"/>
<rect x="281" y="278" width="3" height="5" fill="#00ffff"/>
<rect x="286" y="283" width="1" height="13" fill="#ff4848"/>
<rect x="285" y="284" width="3" height="9" fill="#ff4848"/>
<rect x="286" y="285" width="1" height="7" fill="#0b0b0b"/>
<rect x="290" y="281" width="1" height="6" fill="#ff4848"/>
<rect x="289" y="283" width="3" height="1" fill="#ff4848"/>
<rect x="294" y="283" width="1" height="4" fill="#00ffff"/>
<rect x="293" y="283" width="3" height="3" fill="#00ffff"/>
<rect x="298" y="284" width="1" height="3" fill="#ff4848"/>
<rect x="297" y="284" width="3" height="3" fill="#ff4848"/>
<rect x="298" y="285" width="1" height="1" fill="#0b0b0b"/>
<rect x="302" y="280" width="1" height="5" fill="#ff4848"/>
<rect x="301" y="280" width="3" height="4" fill="#ff4848"/>
<rect x="302" y="281" width="1" height="2" fill="#0b0b0b"/>
<rect x="306" y="274" width="1" height="8" fill="#ff4848"/>
<rect x="305" y="275" width="3" height="6" fill="#ff4848"/>
<rect x="306" y="276" width="1" height="4" fill="#0b0b0b"/>
<rect x="310" y="271" width="1" height="7" fill="#00ffff"/>
<rect x="309" y="274" width="3" height="4" fill="#00ffff"/>
<rect x="314" y="275" width="1" height="6" fill="#ffffff"/>
<rect x="313" y="277" width="3" height="1" fill="#ffffff"/>
<rect x="318" y="272" width="1" height="7" fill="#ff4848"/>
<rect x="317" y="274" width="3" height="4" fill="#ff4848"/>
<rect x="318" y="275" width="1" height="2" fill="#0b0b0b"/>
<rect x="322" y="274" width="1" height="8" fill="#00ffff"/>
<rect x="321" y="274" width="3" height="6" fill="#00ffff"/>
<rect x="326" y="277" width="1" height="7" fill="#ff4848"/>
<rect x="325" y="278" width="3" height="5" fill="#ff4848"/>
<rect x="326" y="279" width="1" height="3" fill="#0b0b0b"/>
<rect x="330" y="268" width="1" height="11" fill="#ff4848"/>
<rect x="329" y="274" width="3" height="4" fill="#ff4848"/>
<rect x="330" y="275" width="1" height="2" fill="#0b0b0b"/>
<rect x="334" y="271" width="1" height="8" fill="#ff4848"/>
<rect x="333" y="274" width="3" height="1" fill="#ff4848"/>
<rect x="338" y="271" width="1" height="10" fill="#00ffff"/>
<rect x="337" y="273" width="3" height="6" fill="#00ffff"/>
<rect x="342" y="277" width="1" height="4" fill="#00ffff"/>
<rect x="341" y="277" width="3" height="2" fill="#00ffff"/>
<rect x="346" y="276" width="1" height="8" fill="#00ffff"/>
<rect x="345" y="280" width="3" height="1" fill="#00ffff"/>
<rect x="350" y="276" width="1" height="5" fill="#ff4848"/>
<rect x="349" y="276" width="3" height="3" fill="#ff4848"/>
<rect x="350" y="277" width="1" height="1" fill="#0b0b0b"/>
<rect x="354" y="271" width="1" height="7" fill="#ff4848"/>
<rect x="353" y="275" width="3" height="3" fill="#ff4848"/>
<rect x="354" y="276" width="1" height="1" fill="#0b0b0b"/>
<rect x="358" y="265" width="1" height="13" fill="#ff4848"/>
<rect x="357" y="265" width="3" height="13" fill="#ff4848"/>
<rect x="358" y="266" width="1" height="11" fill="#0b0b0b"/>
<rect x="362" y="259" width="1" height="11" fill="#ff4848"/>
<rect x="361" y="260" width="3" height="7" fill="#ff4848"/>
<rect x="362" y="261" width="1" height="5" fill="#0b0b0b"/>
<rect x="366" y="251" width="1" height="10" fill="#00ffff"/>
<rect x="365" y="254" width="3" height="4" fill="#00ffff"/>
<rect x="370" y="254" width="1" height="8" fill="#00ffff"/>
<rect x="369" y="256" width="3" height="6" fill="#00ffff"/>
<rect x="374" y="261" width="1" height="6" fill="#00ffff"/>
<rect x="373" y="262" width="3" height="2" fill="#00ffff"/>
<rect x="378" y="260" width="1" height="7" fill="#ff4848"/>
<rect x="377" y="263" width="3" height="1" fill="#ff4848"/>
<rect x="382" y="262" width="1" height="9" fill="#00ffff"/>
<rect x="381" y="262" width="3" height="9" fill="#00ffff"/>
<rect x="386" y="265" width="1" height="8" fill="#ff4848"/>
<rect x="385" y="270" width="3" height="1" fill="#ff4848"/>
<rect x="390" y="272" width="1" height="4" fill="#00ffff"/>
<rect x="389" y="272" width="3" height="2" fill="#00ffff"/>
<rect x="394" y="268" width="1" height="8" fill="#ff4848"/>
<rect x="393" y="269" width="3" height="5" fill="#ff4848"/>
<rect x="394" y="270" width="1" height="3" fill="#0b0b0b"/>
<rect x="398" y="268" width="1" height="6" fill="#ff4848"/>
<rect x="397" y="269" width="3" height="4" fill="#ff4848"/>
<rect x="398" y="270" width="1" height="2" fill="#0b0b0b"/>
<rect x="403" y="266" width="1" height="6" fill="#ff4848"/>
<rect x="402" y="267" width="3" height="4" fill="#ff4848"/>
<rect x="403" y="268" width="1" height="2" fill="#0b0b0b"/>
<rect x="407" y="259" width="1" height="7" fill="#ff4848"/>
<rect x="406" y="262" width="3" height="3" fill="#ff4848"/>
<rect x="407" y="263" width="1" height="1" fill="#0b0b0b"/>
<rect x="411" y="247" width="1" height="21" fill="#ff4848"/>
<rect x="410" y="248" width="3" height="14" fill="#ff4848"/>
<rect x="411" y="249" width="1" height="12" fill="#0b0b0b"/>
<rect x="415" y="249" width="1" height="11" fill="#00ffff"/>
<rect x="414" y="249" width="3" height="8" fill="#00ffff"/>
<rect x="419" y="250" width="1" height="7" fill="#ff4848"/>
<rect x="418" y="254" width="3" height="3" fill="#ff4848"/>
<rect x="419" y="255" width="1" height="1" fill="#0b0b0b"/>
<rect x="423" y="251" width="1" height="9" fill="#00ffff"/>
<rect x="422" y="256" width="3" height="2" fill="#00ffff"/>
<rect x="427" y="255" width="1" height="8" fill="#00ffff"/>
<rect x="426" y="257" width="3" height="4" fill="#00ffff"/>
<rect x="431" y="255" width="1" height="8" fill="#ff4848"/>
<rect x="430" y="259" width="3" height="1" fill="#ff4848"/>
<rect x="435" y="253" width="1" height="7" fill="#ff4848"/>
<rect x="434" y="254" width="3" height="6" fill="#ff4848"/>
<rect x="435" y="255" width="1" height="4" fill="#0b0b0b"/>
<rect x="439" y="253" width="1" height="7" fill="#00ffff"/>
<rect x="438" y="253" width="3" height="5" fill="#00ffff"/>
<rect x="443" y="254" width="1" height="8" fill="#00ffff"/>
<rect x="442" y="257" width="3" height="5" fill="#00ffff"/>
<rect x="447" y="257" width="1" height="15" fill="#00ffff"/>
<rect x="446" y="263" width="3" height="6" fill="#00ffff"/>
<rect x="451" y="263" width="1" height="5" fill="#ff4848"/>
<rect x="450" y="263" width="3" height="5" fill="#ff4848"/>
<rect x="451" y="264" width="1" height="3" fill="#0b0b0b"/>
<rect x="455" y="262" width="1" height="6" fill="#00ffff"/>
<rect x="454" y="262" width="3" height="4" fill="#00ffff"/>
<rect x="459" y="261" width="1" height="8" fill="#ffffff"/>
<rect x="458" y="265" width="3" height="1" fill="#ffffff"/>
<rect x="463" y="265" width="1" height="9" fill="#00ffff"/>
<rect x="462" y="265" width="3" height="7" fill="#00ffff"/>
<rect x="467" y="268" width="1" height="7" fill="#ff4848"/>
<rect x="466" y="269" width="3" height="3" fill="#ff4848"/>
<rect x="467" y="270" width="1" height="1" fill="#0b0b0b"/>
<rect x="471" y="258" width="1" height="8" fill="#ff4848"/>
<rect x="470" y="259" width="3" height="7" fill="#ff4848"/>
<rect x="471" y="260" width="1" height="5" fill="#0b0b0b"/>
<rect x="475" y="253" width="1" height="10" fill="#ff4848"/>
<rect x="474" y="257" width="3" height="3" fill="#ff4848"/>
<rect x="475" y="258" width="1" height="1" fill="#0b0b0b"/>
<rect x="479" y="256" width="1" height="5" fill="#00ffff"/>
<rect x="478" y="256" width="3" height="4" fill="#00ffff"/>
<rect x="483" y="253" width="1" height="11" fill="#ff4848"/>
<rect x="482" y="253" width="3" height="7" fill="#ff4848"/>
<rect x="483" y="254" width="1" height="5" fill="#0b0b0b"/>
<rect x="487" y="245" width="1" height="13" fill="#ff4848"/>
<rect x="486" y="246" width="3" height="9" fill="#ff4848"/>
<rect x="487" y="247" width="1" height="7" fill="#0b0b0b"/>
<rect x="491" y="240" width="1" height="12" fill="#00ffff"/>
<rect x="490" y="246" width="3" height="6" fill="#00ffff"/>
<rect x="495" y="243" width="1" height="14" fill="#ff4848"/>
<rect x="494" y="246" width="3" height="8" fill="#ff4848"/>
<rect x="495" y="247" width="1" height="6" fill="#0b0b0b"/>
<rect x="499" y="241" width="1" height="11" fill="#00ffff"/>
<rect x="498" y="244" width="3" height="8" fill="#00ffff"/>
<rect x="503" y="249" width="1" height="16" fill="#00ffff"/>
<rect x="502" y="251" width="3" height="11" fill="#00ffff"/>
<rect x="507" y="253" width="1" height="12" fill="#ff4848"/>
<rect x="506" y="255" width="3" height="8" fill="#ff4848"/>
<rect x="507" y="256" width="1" height="6" fill="#0b0b0b"/>
<rect x="511" y="249" width="1" height="10" fill="#ff4848"/>
<rect x="510" y="252" width="3" height="3" fill="#ff4848"/>
<rect x="511" y="253" width="1" height="1" fill="#0b0b0b"/>
<rect x="515" y="249" width="1" height="10" fill="#00ffff"/>
<rect x="514" y="250" width="3" height="9" fill="#00ffff"/>
<rect x="519" y="248" width="1" height="15" fill="#ff4848"/>
<rect x="518" y="251" width="3" height="9" fill="#ff4848"/>
<rect x="519" y="252" width="1" height="7" fill="#0b0b0b"/>
<rect x="523" y="246" width="1" height="9" fill="#ff4848"/>
<rect x="522" y="246" width="3" height="9" fill="#ff4848"/>
<rect x="523" y="247" width="1" height="7" fill="#0b0b0b"/>
<rect x="527" y="245" width="1" height="10" fill="#00ffff"/>
<rect x="526" y="246" width="3" height="3" fill="#00ffff"/>
<rect x="531" y="233" width="1" height="19" fill="#ff4848"/>
<rect x="530" y="240" width="3" height="8" fill="#ff4848"/>
<rect x="531" y="241" width="1" height="6" fill="#0b0b0b"/>
<rect x="535" y="228" width="1" height="12" fill="#ff4848"/>
<rect x="534" y="231" width="3" height="6" fill="#ff4848"/>
<rect x="535" y="232" width="1" height="4" fill="#0b0b0b"/>
<rect x="539" y="230" width="1" height="10" fill="#00ffff"/>
<rect x="538" y="230" width="3" height="6" fill="#00ffff"/>
<rect x="543" y="230" width="1" height="8" fill="#ff4848"/>
<rect x="542" y="231" width="3" height="3" fill="#ff4848"/>
<rect x="543" y="232" width="1" height="1" fill="#0b0b0b"/>
<rect x="547" y="226" width="1" height="14" fill="#00ffff"/>
<rect x="546" y="231" width="3" height="6" fill="#00ffff"/>
<rect x="551" y="234" width="1" height="10" fill="#ff4848"/>
<rect x="550" y="236" width="3" height="6" fill="#ff4848"/>
<rect x="551" y="237" width="1" height="4" fill="#0b0b0b"/>
<rect x="555" y="228" width="1" height="8" fill="#ff4848"/>
<rect x="554" y="232" width="3" height="2" fill="#ff4848"/>
<rect x="559" y="231" width="1" height="6" fill="#00ffff"/>
<rect x="558" y="232" width="3" height="4" fill="#00ffff"/>
<rect x="563" y="223" width="1" height="12" fill="#ff4848"/>
<rect x="562" y="226" width="3" height="9" fill="#ff4848"/>
<rect x="563" y="227" width="1" height="7" fill="#0b0b0b"/>
<rect x="567" y="220" width="1" height="12" fill="#00ffff"/>
<rect x="566" y="224" width="3" height="5" fill="#00ffff"/>
<rect x="571" y="225" width="1" height="23" fill="#00ffff"/>
<rect x="570" y="228" width="3" height="11" fill="#00ffff"/>
<rect x="575" y="226" width="1" height="15" fill="#ff4848"/>
<rect x="574" y="226" width="3" height="13" fill="#ff4848"/>
<rect x="575" y="227" width="1" height="11" fill="#0b0b0b"/>
<rect x="579" y="217" width="1" height="13" fill="#ff4848"/>
<rect x="578" y="225" width="3" height="2" fill="#ff4848"/>
<rect x="583" y="201" width="1" height="25" fill="#ff4848"/>
<rect x="582" y="202" width="3" height="22" fill="#ff4848"/>
<rect x="583" y="203" width="1" height="20" fill="#0b0b0b"/>
<rect x="587" y="197" width="1" height="18" fill="#00ffff"/>
<rect x="586" y="198" width="3" height="10" fill="#00ffff"/>
<rect x="591" y="184" width="1" height="27" fill="#ff4848"/>
<rect x="590" y="195" width="3" height="13" fill="#ff4848"/>
<rect x="591" y="196" width="1" height="11" fill="#0b0b0b"/>
<rect x="595" y="191" width="1" height="11" fill="#00ffff"/>
<rect x="594" y="194" width="3" height="2" fill="#00ffff"/>
<rect x="599" y="184" width="1" height="22" fill="#00ffff"/>
<rect x="598" y="196" width="3" height="3" fill="#00ffff"/>
<rect x="603" y="193" width="1" height="11" fill="#00ffff"/>
<rect x="602" y="196" width="3" height="5" fill="#00ffff"/>
<rect x="607" y="187" width="1" height="15" fill="#ff4848"/>
<rect x="606" y="191" width="3" height="11" fill="#ff4848"/>
<rect x="607" y="192" width="1" height="9" fill="#0b0b0b"/>
<rect x="611" y="193" width="1" height="10" fill="#00ffff"/>
<rect x="610" y="193" width="3" height="4" fill="#00ffff"/>
<rect x="615" y="177" width="1" height="23" fill="#00ffff"/>
<rect x="614" y="196" width="3" height="4" fill="#00ffff"/>
<rect x="619" y="194" width="1" height="21" fill="#00ffff"/>
<rect x="618" y="199" width="3" height="8" fill="#00ffff"/>
<rect x="623" y="196" width="1" height="10" fill="#ff4848"/>
<rect x="622" y="200" width="3" height="6" fill="#ff4848"/>
<rect x="623" y="201" width="1" height="4" fill="#0b0b0b"/>
<rect x="627" y="196" width="1" height="17" fill="#00ffff"/>
<rect x="626" y="196" width="3" height="10" fill="#00ffff"/>
<rect x="631" y="205" width="1" height="10" fill="#00ffff"/>
<rect x="630" y="210" width="3" height="2" fill="#00ffff"/>
<rect x="635" y="210" width="1" height="24" fill="#00ffff"/>
<rect x="634" y="210" width="3" height="18" fill="#00ffff"/>
<rect x="639" y="213" width="1" height="14" fill="#ff4848"/>
<rect x="638" y="217" width="3" height="10" fill="#ff4848"/>
<rect x="639" y="218" width="1" height="8" fill="#0b0b0b"/>
<rect x="643" y="204" width="1" height="16" fill="#ff4848"/>
<rect x="642" y="212" width="3" height="3" fill="#ff4848"/>
<rect x="643" y="213" width="1" height="1" fill="#0b0b0b"/>
<rect x="647" y="197" width="1" height="23" fill="#ff4848"/>
<rect x="646" y="200" width="3" height="13" fill="#ff4848"/>
<rect x="647" y="201" width="1" height="11" fill="#0b0b0b"/>
<rect x="651" y="179" width="1" height="21" fill="#ff4848"/>
<rect x="650" y="183" width="3" height="17" fill="#ff4848"/>
<rect x="651" y="184" width="1" height="15" fill="#0b0b0b"/>
<rect x="655" y="174" width="1" height="9" fill="#ff4848"/>
<rect x="654" y="177" width="3" height="2" fill="#ff4848"/>
<rect x="659" y="156" width="1" height="30" fill="#ff4848"/>
<rect x="658" y="159" width="3" height="15" fill="#ff4848"/>
<rect x="659" y="160" width="1" height="13" fill="#0b0b0b"/>
<rect x="663" y="139" width="1" height="27" fill="#00ffff"/>
<rect x="662" y="159" width="3" height="2" fill="#00ffff"/>
<rect x="667" y="148" width="1" height="29" fill="#00ffff"/>
<rect x="666" y="163" width="3" height="12" fill="#00ffff"/>
<rect x="671" y="155" width="1" height="26" fill="#ff4848"/>
<rect x="670" y="157" width="3" height="20" fill="#ff4848"/>
<rect x="671" y="158" width="1" height="18" fill="#0b0b0b"/>
<rect x="675" y="147" width="1" height="20" fill="#00ffff"/>
<rect x="674" y="156" width="3" height="2" fill="#00ffff"/>
<rect x="679" y="145" width="1" height="24" fill="#00ffff"/>
<rect x="678" y="155" width="3" height="4" fill="#00ffff"/>
<rect x="683" y="154" width="1" height="23" fill="#ff4848"/>
<rect x="682" y="159" width="3" height="1" fill="#ff4848"/>
<rect x="687" y="121" width="1" height="39" fill="#ff4848"/>
<rect x="686" y="121" width="3" height="39" fill="#ff4848"/>
<rect x="687" y="122" width="1" height="37" fill="#0b0b0b"/>
<rect x="691" y="80" width="1" height="32" fill="#ff4848"/>
<rect x="690" y="80" width="3" height="22" fill="#ff4848"/>
<rect x="691" y="81" width="1" height="20" fill="#0b0b0b"/>
<rect x="695" y="70" width="1" height="33" fill="#ff4848"/>
<rect x="694" y="74" width="3" height="3" fill="#ff4848"/>
<rect x="695" y="75" width="1" height="1" fill="#0b0b0b"/>
<rect x="699" y="46" width="1" height="45" fill="#ff4848"/>
<rect x="698" y="59" width="3" height="14" fill="#ff4848"/>
<rect x="699" y="60" width="1" height="12" fill="#0b0b0b"/>
<rect x="703" y="61" width="1" height="24" fill="#00ffff"/>
<rect x="702" y="61" width="3" height="22" fill="#00ffff"/>
<rect x="707" y="78" width="1" height="40" fill="#ff4848"/>
<rect x="706" y="85" width="3" height="11" fill="#ff4848"/>
<rect x="707" y="86" width="1" height="9" fill="#0b0b0b"/>
<rect x="711" y="48" width="1" height="32" fill="#ff4848"/>
<rect x="710" y="51" width="3" height="29" fill="#ff4848"/>
<rect x="711" y="52" width="1" height="27" fill="#0b0b0b"/>
<rect x="715" y="39" width="1" height="26" fill="#00ffff"/>
<rect x="714" y="47" width="3" height="14" fill="#00ffff"/>
<rect x="719" y="62" width="1" height="38" fill="#00ffff"/>
<rect x="718" y="64" width="3" height="31" fill="#00ffff"/>
<rect x="723" y="74" width="1" height="43" fill="#ff4848"/>
<rect x="722" y="88" width="3" height="14" fill="#ff4848"/>
<rect x="723" y="89" width="1" height="12" fill="#0b0b0b"/>
<rect x="727" y="84" width="1" height="22" fill="#00ffff"/>
<rect x="726" y="87" width="3" height="18" fill="#00ffff"/>
<rect x="731" y="93" width="1" height="21" fill="#ff4848"/>
<rect x="730" y="105" width="3" height="9" fill="#ff4848"/>
<rect x="731" y="106" width="1" height="7" fill="#0b0b0b"/>
<rect x="735" y="80" width="1" height="26" fill="#ff4848"/>
<rect x="734" y="84" width="3" height="18" fill="#ff4848"/>
<rect x="735" y="85" width="1" height="16" fill="#0b0b0b"/>
<rect x="739" y="75" width="1" height="15" fill="#00ffff"/>
<rect x="738" y="80" width="3" height="3" fill="#00ffff"/>
<rect x="743" y="63" width="1" height="22" fill="#ff4848"/>
<rect x="742" y="69" width="3" height="9" fill="#ff4848"/>
<rect x="743" y="70" width="1" height="7" fill="#0b0b0b"/>
<rect x="747" y="48" width="1" height="21" fill="#ff4848"/>
<rect x="746" y="48" width="3" height="21" fill="#ff4848"/>
<rect x="747" y="49" width="1" height="19" fill="#0b0b0b"/>
<rect x="751" y="23" width="1" height="36" fill="#ff4848"/>
<rect x="750" y="30" width="3" height="29" fill="#ff4848"/>
<rect x="751" y="31" width="1" height="27" fill="#0b0b0b"/>
</g>
<polyline points="2,294.4 15,288.8 31,280 44,275 56,269 63,265.8 69,262 81,257 94,254 100,253.5 106,252.4 113,251.7 119,250.2 125,249.5 131,248.3 138,247 144,245.8 150,244.9 156,243.9 163,242.4 169,241.4 175,241 188,240.5 200,240.4 208,240.5 211,238.7 216,238.7 220,237.4 240,237.4 244,238.7 250,240 256,240.8 263,242.4 269,243.7 275,245.6 281,246.8 288,248 294,250 300,252 306,254.4 313,255.7 319,257.3 325,258.2 331,259 338,259.8 344,260.7 350,261.6 356,262.3 369,262.6 375,263.2 381,264.5 388,265.3 394,267 398,268.5 402,269.4 422,269.4 424,270.3 449,270.3 451,271.6 480,271.6 482,270.3 491,269.7 494,268.4 500,268 520,265.9 528,265.2 531,264 538,262.7 544,261.5 550,260.2 556,259.2 563,258 569,256.7 576,256.5 581,254.6 588,252.4 594,250.2 600,247.7 610,245 620,242.5 630,240.5 644,237.5 650,235.4 656,233.2 663,230.7 670,227.2 700,207.5 734,185.5 741,180.2 747,174.6 751,172" fill="none" stroke="#ff00ff" stroke-width="1" stroke-linejoin="round" shape-rendering="crispEdges"/>
<polyline points="2,274 15,269.6 30,263.3 44,258.3 56,253.9 63,250 72,246 80,245 100,244.5 106,243.9 113,243.3 119,242.4 125,240.8 131,238.9 138,237 144,234.5 150,232.9 156,231.6 163,230.3 172,229.8 175,229 180,230.7 188,232 194,233 200,233.6 206,235.3 213,237 219,239 225,241.2 231,243 238,244.9 244,246.8 250,248 256,249.6 263,250.8 269,252 275,253 281,254.6 288,256.2 294,258 300,259.8 306,262 313,263.8 319,265.7 325,267.6 331,270 335,271.4 340,272 344,272.9 350,274 360,274 369,275 375,275.8 378,276.6 400,276.6 406,275.3 413,274 419,272.8 425,271.9 433,271.6 441,269.7 448,269.4 456,268.2 463,267.4 469,267.2 475,266.5 481,265.7 488,264 494,263 500,262 506,261.7 513,260.9 519,260.2 525,259.2 531,258 538,257 544,255.8 550,255.2 556,254 563,252.7 569,251.2 575,250.2 581,248.3 588,246.2 594,243.9 600,242 609,237.5 616,235 622,232.9 629,230.3 635,228.2 641,227.2 647,225.3 653,223.4 656,222.2 661,219 666,215.7 670,212.8 680,204.9 690,197 704.5,185.5 708,182 713,175.8 717,172 722,168.3 728,163.3 731,160.8 738,154.5 744,149.5 751,142" fill="none" stroke="#f0f000" stroke-width="1" stroke-linejoin="round" shape-rendering="crispEdges"/>
<polyline points="2,266.4 8,266 16,263.9 22,261.4 30,256.4 38,254.5 44,251.4 50,248.3 56,241.3 60,237.6 65,231.3 70,226.9 76,223.5 88,223.5 100,225.3 110,229 120,230.7 130,234.5 138,236.4 144,238.2 150,239 157,239 163,237.9 169,236.4 173,235.4 180,235.4 190,235.7 200,236.5 206,238 213,238.7 216,239.3 222,241.2 228,244.3 235,248.3 241,252.5 246,256.6 250,260 256,263.4 263,265.6 269,267.9 275,270 281,271.9 288,274.2 294,276.9 300,279.6 303,280.4 306,281 316,281 318,280.4 338,279.9 344,279.5 356,279 359,278.3 363,277 366,275.8 369,274.9 372,273.9 377,272.9 385,272.4 388,271.6 400,271.5 403,270.3 410,268.4 419,266.5 425,264.7 431,263 434,262.4 450,262.4 456,263.4 469,263.4 472,262 478,261.5 481,260.3 488,259.4 500,259.2 524,258.7 528,256.5 535,253.3 541,250.8 547,248.3 553,247 559,244.9 563,243.3 570,242.7 578,240.8 583,237.3 588,233.6 594,229.4 600,225.2 606,220.9 611,218.4 619,215.7 625,213.4 631,211 637,211 641,209.9 647,208.4 650,205.9 656,201.5 661,198.3 666,196 670,194.6 686,185.5 691,180.2 697,170.2 703,160 708,150 713,141 716,134.4 722,126 728,118.7 734,113.7 740,107.4 745,99.9 749,94.2 751,89.8" fill="none" stroke="#ffffff" stroke-width="1" stroke-linejoin="round" shape-rendering="crispEdges"/>
<polyline points="2,385 10,384.5 15,383.3 20,382 25,380.8 31,380 36,379 48,378.9 52,378.2 58,377.6 61,375.7 70,375 76,375.7 81,377.6 87,379.5 93,382 100,384.8 106,387 113,388.3 119,389.5 125,391.2 131,392 138,393.3 144,395.2 156,395.8 163,396.2 175,396.2 181,395.2 188,395.4 200,395.8 210,396.2 219,396.7 225,395.8 235,395.8 244,396.4 250,397.4 256,398.3 263,399 269,399.6 281,400 288,400.5 300,401.5 313,402 325,402.7 350,403.3 356,402 363,400.2 366,399.2 388,399.2 400,399.6 408,399.6 411,398.3 419,397.7 440,397.7 444,399 450,400.2 469,400.2 475,399.2 488,398.7 500,397.6 513,396.7 525,396.7 528,395.8 533,393.3 538,392 547,391.4 553,391.2 559,390.2 563,388.9 569,388.3 575,388.3 580,385.8 584,384.5 588,384.2 594,382.6 600,382 613,381.6 619,381.4 625,381 650,380.8 684,380.8 688,378.2 692,375.7 695,375 703,375 709,373.5 714,374 719,373 727,373.5 734,376 740,377.5 745,378.3 751,378.3" fill="none" stroke="#ff00ff" stroke-width="1" stroke-linejoin="round" shape-rendering="crispEdges"/>
<polyline points="2,383.9 6,382 10,380.8 15,378.9 20,374.5 25,370.7 31,370 36,369.5 40,372 43,374.5 48,375 52,376.4 58,378.2 63,378.9 68,380.8 74,381.4 80,382 86,383.9 93,385.8 97,389 100,391.8 105,394.9 113,395.8 119,398.3 125,399.6 130,398.3 136,397 140,395.2 146,394.6 156,394.9 163,394.9 169,393.3 176,393.7 181,394.6 188,395.2 194,396.2 200,396.4 206,397 213,398.7 219,399.2 225,396.7 231,397 244,397.4 255,397.4 263,399.6 269,400.2 275,401.2 281,402 288,402.7 300,403.5 325,403 338,403 350,403 356,401.5 363,399 366,396.4 375,396.4 378,395.2 394,395.2 400,397.2 406,399.6 413,399.2 425,399.6 431,398.3 438,399 447,398.3 452,400.2 463,401.2 469,400.5 475,399.6 481,399.2 488,397 494,395.2 500,393.3 513,393.3 525,393.3 528,395.8 533,392 538,390.4 544,390.4 547,389.5 553,389.5 556,387.7 563,386.4 569,385.4 575,385.8 578,383.9 583,380 588,378.2 591,377.4 597,378.6 600,377.9 613,377.4 617,378.9 622,382.6 628,384.2 631,385.4 638,385.2 647,384.5 653,382 659,379.5 665,377.9 669,376.4 678,377.9 684,377.2 688,374 692,369.5 695,368.2 699,369.8 703,371 709,371.4 714,369.8 723,370.3 727,373.5 731,379 735,382.4 740,384.8 747,385.3 751,385.9" fill="none" stroke="#f0f000" stroke-width="1" stroke-linejoin="round" shape-rendering="crispEdges"/>
<polyline points="2,379.5 6,374.5 10,370.7 15,366.3 19,365 23,366.3 27,366.6 31,370.7 36,373.9 40,378.9 43,383.3 46.5,385 50,383.3 54,384.5 58,382 61,375.7 63,374.5 66,375 70,378.2 74,377.6 77,380 82,389 86,391.4 92,394.6 97,396.4 100,397.8 104,399 108,398.3 113,398.7 119,399.2 125,399.2 130,397.4 135,396.4 138,393.3 141,392 147,391.4 153,393.3 157,395.2 163,396.7 167,395.2 172,394.2 176,393.7 181,392 186,393.9 191,395.8 196,398.3 200,399.8 206,400.8 213,401.5 216,399.6 219,398.3 222,399 227,394.6 233,394.2 236,395.2 244,397.7 250,399.6 256,400.2 263,400.8 269,401.7 275,402.5 281,403.3 288,404 300,404.3 310,402.7 320,402 330,402.7 338,403.7 350,403.7 356,402 361,398.3 364,394.6 367,391.4 370,388.3 375,389.5 380,392 383,394.6 386,398.3 390,401.5 394,402.7 400,402 406,402.5 410,399 415,395.8 420,395.2 428,396.4 431,399.2 438,400.2 444,401.5 456,401.5 463,400.8 469,400.2 473,399 477,397.4 484,397 488,393.3 491,391.7 497,391.4 500,389.4 504,389.5 508,392.7 512,395.8 517,396.4 520,398.3 524,396.4 528,396.4 531,391.4 535,385.2 539,382.9 544,382.9 547,382 552,386.4 556,390.2 560,392 564,388.3 569,385.8 574,384.2 577,380 581,373.9 584,371.3 588,371.3 591,370 594,371.6 600,377.5 606,382.6 611,385.8 616,382 621,382.6 625,385.2 631,385.4 638,384.2 644,382.9 650,381.4 655,381.4 658,378.2 663,373.2 667,371 672,372.6 676,374.5 679,378.2 683,381.6 688,375 691,368.7 695,363.4 699,361 703,361 706,364.6 709,371 714,377.2 718,378.8 723,380 727,382.7 731,386.4 736,389 740,390.7 743,391.2 747,388.8 751,386.9" fill="none" stroke="#ffffff" stroke-width="1" stroke-linejoin="round" shape-rendering="crispEdges"/>
<polyline points="2,484.3 6,483.4 10,482.4 15,480.9 20,478.6 25,476.4 31,474.2 38,472.3 44,471.1 50,470.1 56,469.2 63,467.6 69,467.3 75,467.6 82,469.2 86,471.7 90,474.2 94,476.1 100,478.8 106,482.1 113,484.3 119,486.1 125,488.4 131,489.3 138,488.9 144,488 150,487.2 156,486.8 163,486.1 169,485.5 175,485.5 181,486.8 188,488 194,489.3 200,490.4 206,493 213,494.3 219,494.3 225,495.2 231,496.2 238,498.7 244,501.2 250,503.5 256,504.7 263,505.2 275,504.7 288,503.7 300,502.8 306,502.2 313,500.6 319,499.7 325,498.4 331,496.8 338,496.2 344,495.6 350,494.9 356,493.7 363,492.2 369,490.5 375,489.3 381,488.4 388,487.4 400,487.2 413,486.8 419,485.5 428,485.5 430,484.3 444,484.3 450,484.9 456,485.9 463,486.4 467,487.2 475,487.4 481,487.2 488,486.4 494,485.5 500,485.1 503,485.5 528,485.5 531,484.9 538,483.4 544,482.4 550,481.4 556,480.5 563,479.6 581,479.6 588,477.4 594,474.9 597,473.6 600,473.2 606,471.7 613,471.1 616,470.1 622,470.5 628,471.3 633,471.7 638,474.2 644,475.5 647,476.4 655,476.1 659,475.1 665,474.2 669,472.3 675,470.5 681,468.6 686,466.7 690,463.8 695,459.8 699,454.8 703,450.7 707,447.3 711,444.8 715,442 719,440.7 723,440.3 727,441 735,442.7 743,444.8 747,445.7 751,445.3" fill="none" stroke="#f0f000" stroke-width="1" stroke-linejoin="round" shape-rendering="crispEdges"/>
<polyline points="2,483.4 6,481.1 10,477.1 15,477.1 20,473 25,468.6 29,466.1 31,466.1 35,468.6 40,468.6 43,469.6 47,468.6 52,467.6 56,467.1 59,466.1 62,464.6 68,464.6 72,466.7 75,469.2 81,474.2 86,479.6 90,481.8 94,484.9 98,488 100,489.3 106,489.9 113,490.9 119,492.2 125,492.2 131,490.9 135,489.7 140,487.4 144,485.9 150,485.5 156,485.5 163,485.1 166,483.9 174,483.9 178,486.8 183,489.3 188,490.5 192,493 197,495.6 200,496.2 203,497.4 213,497.4 217,495.9 222,495.9 225,497.7 231,500.6 238,503.1 241,505 246,508.1 252,508.1 256,506.9 269,506 275,504.3 288,503.7 296,503.1 300,501.2 303,500.2 308,497.7 315,496.8 322,495.6 331,493.7 344,493.4 352,492.7 356,490.9 360,489.3 364,488 368,486.4 373,485.5 379,485.5 384,486.8 400,487.2 408,486.8 411,484.3 417,483.4 441,483.4 446,484.9 452,486.8 458,487.7 463,489.3 470,489.3 475,488 481,486.8 485,485.5 490,484.3 494,483.4 500,483.4 503,484.9 520,484.9 522,484.3 528,484.3 531,483 535,481.1 541,479.6 553,479.2 556,478.4 563,478.4 566,477.1 569,477.6 572,478.9 580,478.4 583,475.5 588,473 594,469.8 597,468.6 600,468.4 606,467.6 610,468.6 616,468.6 622,471.1 628,472.3 631,474.2 635,478.4 641,480.5 644,481.4 647,480.5 651,477.4 655,474.2 659,471.1 663,468.6 669,467.1 675,465.4 679,464.6 684,464.3 688,458.7 691,452.9 695,446.5 699,439.3 702,436.5 707,436.5 711,432.7 714,431 716,431.5 719,435.3 723,439.3 727,443.2 731,447 735,448.7 739,449.8 743,449.8 747,448.2 751,445.7" fill="none" stroke="#ffffff" stroke-width="1" stroke-linejoin="round" shape-rendering="crispEdges"/>
<ellipse cx="302.5" cy="406.5" rx="37" ry="11.6" fill="none" stroke="#a8a800" stroke-width="2"/>
<path d="M74 116.5L63.2 178M59.7 169.2L63.2 178L69.5 170.9" fill="none" stroke="#9696f6" stroke-width="2.4" stroke-linecap="round" stroke-linejoin="round"/>
<path d="M282.3 206.2L209.7 231M215.8 223.7L209.7 231L219.0 233.1" fill="none" stroke="#9696f6" stroke-width="2.4" stroke-linecap="round" stroke-linejoin="round"/>
<path d="M340.2 215.3L405.6 268.9M396.2 267.6L405.6 268.9L402.5 259.9" fill="none" stroke="#9696f6" stroke-width="2.4" stroke-linecap="round" stroke-linejoin="round"/>
<path d="M568.4 112L641.6 148.4M632.1 149.2L641.6 148.4L636.6 140.3" fill="none" stroke="#9696f6" stroke-width="2.4" stroke-linecap="round" stroke-linejoin="round"/>
<path d="M331.5 358L304.5 393M305.5 383.6L304.5 393L313.4 389.6" fill="none" stroke="#9696f6" stroke-width="2.4" stroke-linecap="round" stroke-linejoin="round"/>
<path d="M382.9 435.6L374.4 480.8M371.0 471.9L374.4 480.8L380.8 473.8" fill="none" stroke="#9696f6" stroke-width="2.4" stroke-linecap="round" stroke-linejoin="round"/>
<path d="M608.7 433.1L650.4 470.7M641.1 469.0L650.4 470.7L647.7 461.6" fill="none" stroke="#9696f6" stroke-width="2.4" stroke-linecap="round" stroke-linejoin="round"/>
<path d="M241.5 1.5V13.5M239 5.5L241.5 1.5L244 5.5" fill="none" stroke="#ff2020" stroke-width="1.1"/>
<path d="M314.5 1.5V13.5M312 5.5L314.5 1.5L317 5.5" fill="none" stroke="#ff2020" stroke-width="1.1"/>
<path d="M387.5 1.5V13.5M385 5.5L387.5 1.5L390 5.5" fill="none" stroke="#ff2020" stroke-width="1.1"/>
<path d="M199.5 315V327M197 323L199.5 327L202 323" fill="none" stroke="#00ffff" stroke-width="1.1"/>
<path d="M300.5 315V327M298 319L300.5 315L303 319" fill="none" stroke="#ff2020" stroke-width="1.1"/>
<path d="M401.5 315V327M399 323L401.5 327L404 323" fill="none" stroke="#00ffff" stroke-width="1.1"/>
<path d="M503.5 315V327M501 319L503.5 315L506 319" fill="none" stroke="#ff2020" stroke-width="1.1"/>
<path d="M138.5 413V425M136 417L138.5 413L141 417" fill="none" stroke="#ff2020" stroke-width="1.1"/>
<path d="M205.5 413V425M203 417L205.5 413L208 417" fill="none" stroke="#ff2020" stroke-width="1.1"/>
<path d="M283.5 413V425M281 417L283.5 413L286 417" fill="none" stroke="#ff2020" stroke-width="1.1"/>
<text x="1" y="13" fill="#ffffff" font-family="Liberation Sans, Noto Sans CJK SC, sans-serif" font-size="12"  textLength="119" lengthAdjust="spacingAndGlyphs">晨鸣纸业(日线.前复权)</text>
<text x="124" y="13" fill="#ffffff" font-family="Liberation Sans, Noto Sans CJK SC, sans-serif" font-size="12"  textLength="51.5" lengthAdjust="spacingAndGlyphs">MA季均线</text>
<text x="181" y="13" fill="#ffffff" font-family="Liberation Sans, Noto Sans CJK SC, sans-serif" font-size="12"  textLength="56" lengthAdjust="spacingAndGlyphs">MA20:7.23</text>
<text x="253.7" y="13" fill="#ffff00" font-family="Liberation Sans, Noto Sans CJK SC, sans-serif" font-size="12"  textLength="56" lengthAdjust="spacingAndGlyphs">MA40:6.37</text>
<text x="326.7" y="13" fill="#ff00ff" font-family="Liberation Sans, Noto Sans CJK SC, sans-serif" font-size="12"  textLength="56" lengthAdjust="spacingAndGlyphs">MA60:5.88</text>
<text x="1.2" y="326" fill="#ffffff" font-family="Liberation Sans, Noto Sans CJK SC, sans-serif" font-size="12"  textLength="77" lengthAdjust="spacingAndGlyphs">VOL2(5,10,20)</text>
<text x="84" y="326" fill="#ffffff" font-family="Liberation Sans, Noto Sans CJK SC, sans-serif" font-size="12"  textLength="110.5" lengthAdjust="spacingAndGlyphs">VOLUME:238649.20</text>
<text x="211.5" y="326" fill="#ffffff" font-family="Liberation Sans, Noto Sans CJK SC, sans-serif" font-size="12"  textLength="84" lengthAdjust="spacingAndGlyphs">MA1:209604.67</text>
<text x="313.4" y="326" fill="#ffff00" font-family="Liberation Sans, Noto Sans CJK SC, sans-serif" font-size="12"  textLength="83.6" lengthAdjust="spacingAndGlyphs">MA2:208537.63</text>
<text x="414" y="326" fill="#ff00ff" font-family="Liberation Sans, Noto Sans CJK SC, sans-serif" font-size="12"  textLength="83" lengthAdjust="spacingAndGlyphs">MA3:286260.63</text>
<text x="1" y="424" fill="#ffffff" font-family="Liberation Sans, Noto Sans CJK SC, sans-serif" font-size="12"  textLength="81" lengthAdjust="spacingAndGlyphs">MACD(12,26,9)</text>
<text x="89.2" y="424" fill="#ffffff" font-family="Liberation Sans, Noto Sans CJK SC, sans-serif" font-size="12"  textLength="44.4" lengthAdjust="spacingAndGlyphs">DIF:0.49</text>
<text x="150.5" y="424" fill="#ffff00" font-family="Liberation Sans, Noto Sans CJK SC, sans-serif" font-size="12"  textLength="49.7" lengthAdjust="spacingAndGlyphs">DEA:0.48</text>
<text x="217.5" y="424" fill="#ff00ff" font-family="Liberation Sans, Noto Sans CJK SC, sans-serif" font-size="12"  textLength="60.3" lengthAdjust="spacingAndGlyphs">MACD:0.03</text>
<text x="771" y="48" fill="#d00000" font-family="Liberation Sans, Noto Sans CJK SC, sans-serif" font-size="12" >8.00</text>
<text x="771" y="78" fill="#d00000" font-family="Liberation Sans, Noto Sans CJK SC, sans-serif" font-size="12" >7.50</text>
<text x="771" y="109" fill="#d00000" font-family="Liberation Sans, Noto Sans CJK SC, sans-serif" font-size="12" >7.00</text>
<text x="771" y="139" fill="#d00000" font-family="Liberation Sans, Noto Sans CJK SC, sans-serif" font-size="12" >6.50</text>
<text x="771" y="169" fill="#d00000" font-family="Liberation Sans, Noto Sans CJK SC, sans-serif" font-size="12" >6.00</text>
<text x="771" y="199" fill="#d00000" font-family="Liberation Sans, Noto Sans CJK SC, sans-serif" font-size="12" >5.50</text>
<text x="771" y="230" fill="#d00000" font-family="Liberation Sans, Noto Sans CJK SC, sans-serif" font-size="12" >5.00</text>
<text x="771" y="260" fill="#d00000" font-family="Liberation Sans, Noto Sans CJK SC, sans-serif" font-size="12" >4.50</text>
<text x="771" y="290" fill="#d00000" font-family="Liberation Sans, Noto Sans CJK SC, sans-serif" font-size="12" >4.00</text>
<text x="768" y="335" fill="#d00000" font-family="Liberation Sans, Noto Sans CJK SC, sans-serif" font-size="12" >7500</text>
<text x="768" y="361" fill="#d00000" font-family="Liberation Sans, Noto Sans CJK SC, sans-serif" font-size="12" >5000</text>
<text x="768" y="387" fill="#d00000" font-family="Liberation Sans, Noto Sans CJK SC, sans-serif" font-size="12" >2500</text>
<text x="758" y="404" fill="#d00000" font-family="Liberation Sans, Noto Sans CJK SC, sans-serif" font-size="12" >X100</text>
<text x="771" y="439" fill="#d00000" font-family="Liberation Sans, Noto Sans CJK SC, sans-serif" font-size="12" >0.60</text>
<text x="771" y="467" fill="#d00000" font-family="Liberation Sans, Noto Sans CJK SC, sans-serif" font-size="12" >0.30</text>
<text x="3" y="525" fill="#d00000" font-family="Liberation Sans, Noto Sans CJK SC, sans-serif" font-size="12" >2006年</text>
<text x="59" y="525" fill="#d00000" font-family="Liberation Sans, Noto Sans CJK SC, sans-serif" font-size="12" >6</text>
<text x="148" y="525" fill="#d00000" font-family="Liberation Sans, Noto Sans CJK SC, sans-serif" font-size="12" >7</text>
<text x="232" y="525" fill="#d00000" font-family="Liberation Sans, Noto Sans CJK SC, sans-serif" font-size="12" >8</text>
<text x="324" y="525" fill="#d00000" font-family="Liberation Sans, Noto Sans CJK SC, sans-serif" font-size="12" >9</text>
<text x="408" y="525" fill="#d00000" font-family="Liberation Sans, Noto Sans CJK SC, sans-serif" font-size="12" >10</text>
<text x="472" y="525" fill="#d00000" font-family="Liberation Sans, Noto Sans CJK SC, sans-serif" font-size="12" >11</text>
<text x="560" y="525" fill="#d00000" font-family="Liberation Sans, Noto Sans CJK SC, sans-serif" font-size="12" >12</text>
<text x="644" y="525" fill="#d00000" font-family="Liberation Sans, Noto Sans CJK SC, sans-serif" font-size="12" >1</text>
<text x="724" y="525" fill="#d00000" font-family="Liberation Sans, Noto Sans CJK SC, sans-serif" font-size="12" >2</text>
<text x="764.5" y="524.5" fill="#ffffff" font-family="Liberation Sans, Noto Sans CJK SC, sans-serif" font-size="12"  textLength="21.5" lengthAdjust="spacingAndGlyphs">日线</text>
<text x="241.5" y="303" fill="#ffffff" font-family="Liberation Sans, Noto Sans CJK SC, sans-serif" font-size="12" >3.83</text>
<text x="704.5" y="32" fill="#ffffff" font-family="Liberation Sans, Noto Sans CJK SC, sans-serif" font-size="12" >8.38</text>
<path d="M264.5 299.5H285M280.5 296.5L285 299.5L280.5 302.5" fill="none" stroke="#fff" stroke-width="1"/>
<path d="M729 24.3L748.5 22.2M744.5 19.5L749 22L745.5 25" fill="none" stroke="#fff" stroke-width="1"/>
<path d="M726.2 18.3L731.8 22.7M731.8 18.3L726.2 22.7" stroke="#ff00ff" stroke-width="1.4" fill="none"/>
<path d="M732.2 18.3L737.8 22.7M737.8 18.3L732.2 22.7" stroke="#ff00ff" stroke-width="1.4" fill="none"/>
<path d="M745.2 18.3L750.8 22.7M750.8 18.3L745.2 22.7" stroke="#ff00ff" stroke-width="1.4" fill="none"/>
<path d="M749.2 18.3L754.8 22.7M754.8 18.3L749.2 22.7" stroke="#ff00ff" stroke-width="1.4" fill="none"/>
<text x="142" y="312" text-anchor="middle" fill="#ff0000" font-family="Liberation Sans, sans-serif" font-size="10" font-weight="bold" textLength="6.6" lengthAdjust="spacingAndGlyphs">S</text>
<path d="M138.5 304.2L142 300.8L145.5 304.2Z" fill="#ff0000"/>
<text x="154" y="312" text-anchor="middle" fill="#ff0000" font-family="Liberation Sans, sans-serif" font-size="10" font-weight="bold" textLength="6.6" lengthAdjust="spacingAndGlyphs">S</text>
<path d="M150.5 304.2L154 300.8L157.5 304.2Z" fill="#ff0000"/>
<text x="405" y="312" text-anchor="middle" fill="#ff0000" font-family="Liberation Sans, sans-serif" font-size="10" font-weight="bold" textLength="6.6" lengthAdjust="spacingAndGlyphs">S</text>
<path d="M401.5 304.2L405 300.8L408.5 304.2Z" fill="#ff0000"/>
<text x="641" y="312" text-anchor="middle" fill="#ff0000" font-family="Liberation Sans, sans-serif" font-size="10" font-weight="bold" textLength="6.6" lengthAdjust="spacingAndGlyphs">S</text>
<path d="M637.5 304.2L641 300.8L644.5 304.2Z" fill="#ff0000"/>
<text x="43.5" y="110" fill="#ff1493" font-family="Liberation Sans, Noto Serif CJK SC, serif" font-weight="700" font-size="15" textLength="67" lengthAdjust="spacing">仙人指路</text>
<text x="291" y="204" fill="#ff1493" font-family="Liberation Sans, Noto Serif CJK SC, serif" font-weight="700" font-size="15" textLength="49" lengthAdjust="spacing">压转托</text>
<text x="482.5" y="101.3" fill="#ff1493" font-family="Liberation Sans, Noto Serif CJK SC, serif" font-weight="700" font-size="15" textLength="150.5" lengthAdjust="spacing">冲过仙人指路后反压</text>
<text x="311" y="348" fill="#ff1493" font-family="Liberation Sans, Noto Serif CJK SC, serif" font-weight="700" font-size="15" textLength="116" lengthAdjust="spacing">回档低点芝麻点</text>
<text x="355.8" y="429" fill="#ff1493" font-family="Liberation Sans, sans-serif" font-weight="bold" font-size="17" textLength="25" lengthAdjust="spacingAndGlyphs">DIF</text>
<text x="382.2" y="429" fill="#ff1493" font-family="Liberation Sans, Noto Serif CJK SC, serif" font-weight="700" font-size="15" textLength="65.5" lengthAdjust="spacing">上穿零轴</text>
<text x="562.5" y="430" fill="#ff1493" font-family="Liberation Sans, Noto Serif CJK SC, serif" font-weight="700" font-size="15" textLength="66.5" lengthAdjust="spacing">水上金叉</text>
</svg></body></html>
